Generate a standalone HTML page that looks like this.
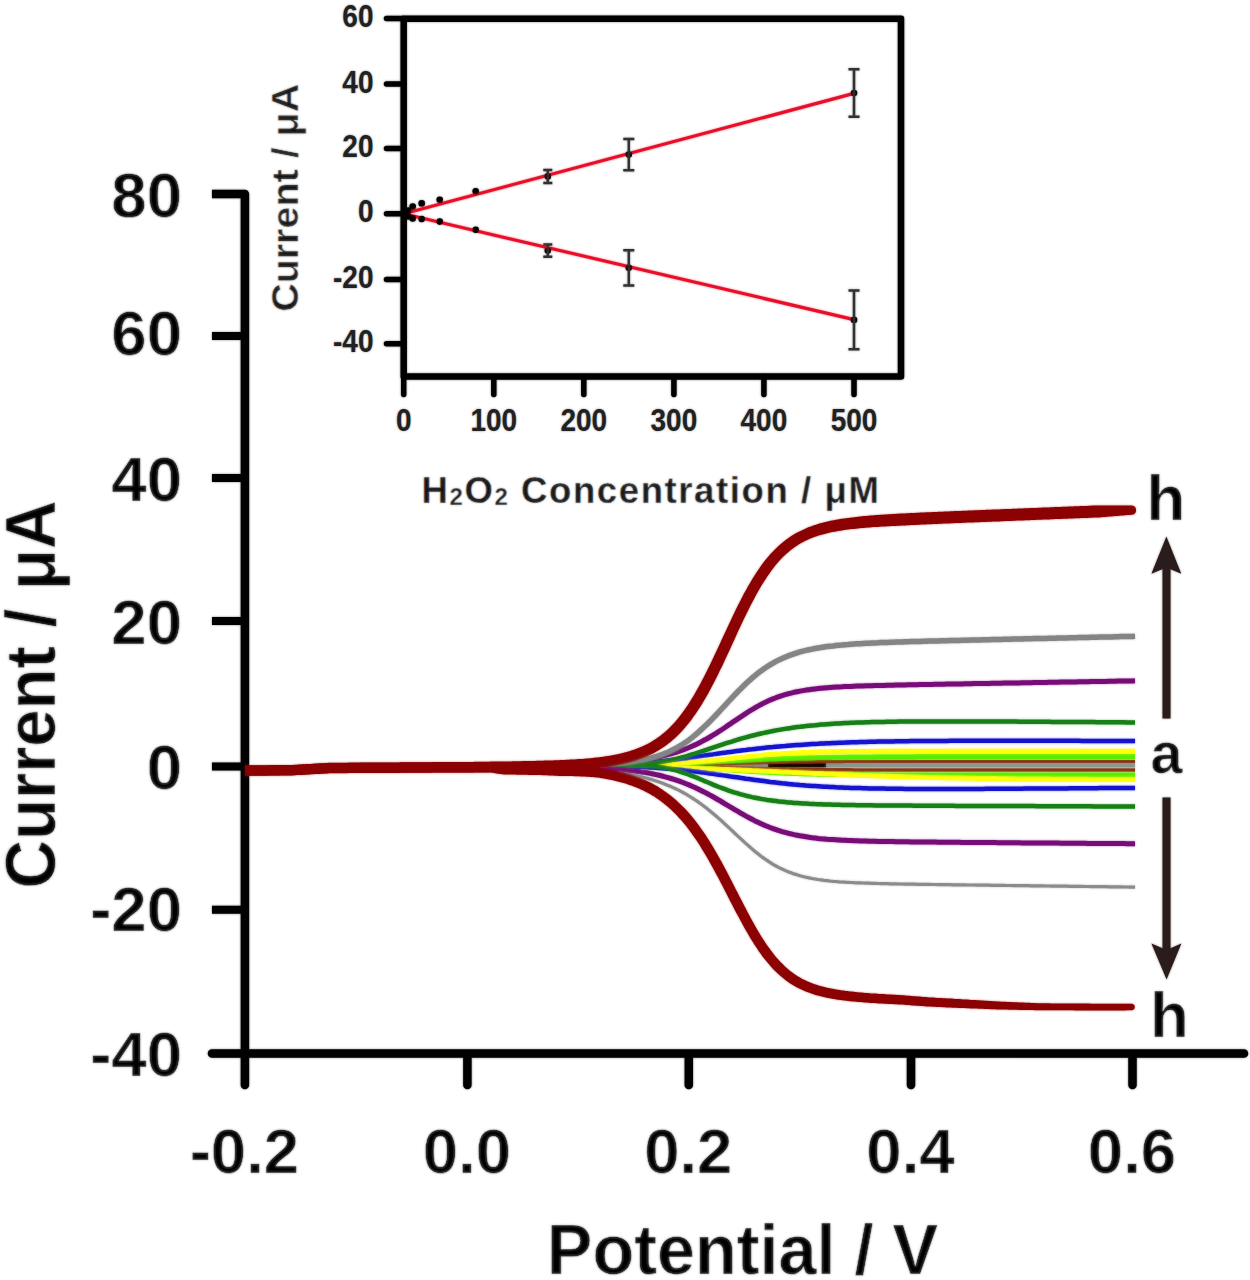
<!DOCTYPE html>
<html><head><meta charset="utf-8"><style>
html,body{margin:0;padding:0;background:#fff;}
body{width:1250px;height:1280px;overflow:hidden;}
svg{display:block;}
text{font-family:"Liberation Sans",sans-serif;font-weight:bold;fill:#000;}
.t62{font-size:63.5px;stroke:#fff;stroke-width:0.6px;}
.t68{font-size:69.5px;stroke:#fff;stroke-width:0.6px;}
.th{font-size:63.5px;stroke:#fff;stroke-width:0.6px;}
.ta{font-size:57.5px;stroke:#fff;stroke-width:0.6px;}
.t28{font-size:28px;fill:#222;}
.t38{font-size:36.5px;fill:#111;stroke:#fff;stroke-width:0.4px;}
.t37{font-size:36.7px;fill:#111;stroke:#fff;stroke-width:0.5px;}
.sub{font-size:24px;}
</style></head><body>
<svg width="1250" height="1280" viewBox="0 0 1250 1280">
<defs><filter id="bl" x="0" y="0" width="1250" height="1280" filterUnits="userSpaceOnUse"><feGaussianBlur stdDeviation="1"/></filter></defs>
<rect width="1250" height="1280" fill="#fff"/>
<g id="content">
<rect x="403.7" y="18.7" width="497.3" height="357.7" stroke="#000" stroke-width="6.5" fill="none" stroke-linejoin="round"/>
<path d="M386.5,18.6 L403.7,18.6" stroke="#000" stroke-width="5.5" fill="none" stroke-linecap="round"/>
<text transform="translate(373.5,27.2) scale(1,1.13)" text-anchor="end" class="t28">60</text>
<path d="M386.5,84.0 L403.7,84.0" stroke="#000" stroke-width="5.5" fill="none" stroke-linecap="round"/>
<text transform="translate(373.5,92.6) scale(1,1.13)" text-anchor="end" class="t28">40</text>
<path d="M386.5,148.5 L403.7,148.5" stroke="#000" stroke-width="5.5" fill="none" stroke-linecap="round"/>
<text transform="translate(373.5,157.1) scale(1,1.13)" text-anchor="end" class="t28">20</text>
<path d="M386.5,213.8 L403.7,213.8" stroke="#000" stroke-width="5.5" fill="none" stroke-linecap="round"/>
<text transform="translate(373.5,222.4) scale(1,1.13)" text-anchor="end" class="t28">0</text>
<path d="M386.5,279.4 L403.7,279.4" stroke="#000" stroke-width="5.5" fill="none" stroke-linecap="round"/>
<text transform="translate(373.5,288.0) scale(1,1.13)" text-anchor="end" class="t28">-20</text>
<path d="M386.5,343.8 L403.7,343.8" stroke="#000" stroke-width="5.5" fill="none" stroke-linecap="round"/>
<text transform="translate(373.5,352.4) scale(1,1.13)" text-anchor="end" class="t28">-40</text>
<path d="M403.7,376.4 L403.7,394.5" stroke="#000" stroke-width="5.5" fill="none" stroke-linecap="round"/>
<text transform="translate(403.7,431.3) scale(1,1.13)" text-anchor="middle" class="t28">0</text>
<path d="M493.8,376.4 L493.8,394.5" stroke="#000" stroke-width="5.5" fill="none" stroke-linecap="round"/>
<text transform="translate(493.8,431.3) scale(1,1.13)" text-anchor="middle" class="t28">100</text>
<path d="M583.8,376.4 L583.8,394.5" stroke="#000" stroke-width="5.5" fill="none" stroke-linecap="round"/>
<text transform="translate(583.8,431.3) scale(1,1.13)" text-anchor="middle" class="t28">200</text>
<path d="M673.9,376.4 L673.9,394.5" stroke="#000" stroke-width="5.5" fill="none" stroke-linecap="round"/>
<text transform="translate(673.9,431.3) scale(1,1.13)" text-anchor="middle" class="t28">300</text>
<path d="M763.9,376.4 L763.9,394.5" stroke="#000" stroke-width="5.5" fill="none" stroke-linecap="round"/>
<text transform="translate(763.9,431.3) scale(1,1.13)" text-anchor="middle" class="t28">400</text>
<path d="M854.0,376.4 L854.0,394.5" stroke="#000" stroke-width="5.5" fill="none" stroke-linecap="round"/>
<text transform="translate(854.0,431.3) scale(1,1.13)" text-anchor="middle" class="t28">500</text>
<text x="421.5" y="502.5" class="t38" style="letter-spacing:1.6px">H<tspan class="sub" dy="2.5">2</tspan><tspan dy="-2.5">O</tspan><tspan class="sub" dy="2.5">2</tspan><tspan dy="-2.5"> Concentration / μM</tspan></text>
<text transform="translate(298,197.8) rotate(-90) scale(1.076,1)" text-anchor="middle" class="t37">Current / μA</text>
<path d="M403.7,213.8 L854.0,93.4" stroke="#e8102a" stroke-width="3.2" fill="none"/>
<path d="M403.7,213.8 L854.0,319.6" stroke="#e8102a" stroke-width="3.2" fill="none"/>
<circle cx="403.7" cy="213.8" r="3.3" fill="#000"/>
<circle cx="408.2" cy="210.5" r="3.3" fill="#000"/>
<circle cx="412.7" cy="206.6" r="3.3" fill="#000"/>
<circle cx="421.7" cy="203.4" r="3.3" fill="#000"/>
<circle cx="439.7" cy="199.8" r="3.3" fill="#000"/>
<circle cx="475.7" cy="191.3" r="3.3" fill="#000"/>
<circle cx="547.8" cy="176.4" r="3.3" fill="#000"/>
<circle cx="628.8" cy="154.6" r="3.3" fill="#000"/>
<circle cx="854.0" cy="93.0" r="3.3" fill="#000"/>
<path d="M547.8,169.9 L547.8,182.9 M543.3,169.9 L552.3,169.9 M543.3,182.9 L552.3,182.9" stroke="#333" stroke-width="2.5" fill="none"/>
<path d="M628.8,138.9 L628.8,170.2 M623.3,138.9 L634.3,138.9 M623.3,170.2 L634.3,170.2" stroke="#333" stroke-width="2.5" fill="none"/>
<path d="M854.0,69.3 L854.0,116.8 M848.5,69.3 L859.5,69.3 M848.5,116.8 L859.5,116.8" stroke="#333" stroke-width="2.5" fill="none"/>
<circle cx="403.7" cy="213.8" r="3.3" fill="#000"/>
<circle cx="408.2" cy="216.4" r="3.3" fill="#000"/>
<circle cx="412.7" cy="218.4" r="3.3" fill="#000"/>
<circle cx="421.7" cy="219.0" r="3.3" fill="#000"/>
<circle cx="439.7" cy="221.6" r="3.3" fill="#000"/>
<circle cx="475.7" cy="229.7" r="3.3" fill="#000"/>
<circle cx="547.8" cy="250.6" r="3.3" fill="#000"/>
<circle cx="628.8" cy="267.8" r="3.3" fill="#000"/>
<circle cx="854.0" cy="319.9" r="3.3" fill="#000"/>
<path d="M547.8,244.4 L547.8,256.8 M543.3,244.4 L552.3,244.4 M543.3,256.8 L552.3,256.8" stroke="#333" stroke-width="2.5" fill="none"/>
<path d="M628.8,250.3 L628.8,285.4 M623.3,250.3 L634.3,250.3 M623.3,285.4 L634.3,285.4" stroke="#333" stroke-width="2.5" fill="none"/>
<path d="M854.0,290.6 L854.0,349.2 M848.5,290.6 L859.5,290.6 M848.5,349.2 L859.5,349.2" stroke="#333" stroke-width="2.5" fill="none"/>
<path d="M212,194 L244.9,194 L244.9,1058" stroke="#000" stroke-width="8.5" fill="none" stroke-linejoin="round"/>
<path d="M212,1053.5 L1244,1053.5" stroke="#000" stroke-width="8.5" fill="none" stroke-linecap="round"/>
<path d="M212,336.0 L245,336.0" stroke="#000" stroke-width="8" fill="none"/>
<path d="M212,478.1 L245,478.1" stroke="#000" stroke-width="8" fill="none"/>
<path d="M212,621.0 L245,621.0" stroke="#000" stroke-width="8" fill="none"/>
<path d="M212,766.6 L245,766.6" stroke="#000" stroke-width="8" fill="none"/>
<path d="M212,909.8 L245,909.8" stroke="#000" stroke-width="8" fill="none"/>
<path d="M244.9,1057 L244.9,1085" stroke="#000" stroke-width="8.5" fill="none" stroke-linecap="round"/>
<path d="M467.4,1057 L467.4,1085" stroke="#000" stroke-width="8.5" fill="none" stroke-linecap="round"/>
<path d="M688.8,1057 L688.8,1085" stroke="#000" stroke-width="8.5" fill="none" stroke-linecap="round"/>
<path d="M911.0,1057 L911.0,1085" stroke="#000" stroke-width="8.5" fill="none" stroke-linecap="round"/>
<path d="M1132.5,1057 L1132.5,1085" stroke="#000" stroke-width="8.5" fill="none" stroke-linecap="round"/>
<path d="M640,765.5 L1135,765.5" stroke="#8a9a90" stroke-width="4" fill="none"/>
<path d="M768,765 L826,765" stroke="#000" stroke-width="4.5" fill="none"/>
<path d="M560.0,766.3 L563.0,766.3 L566.0,766.2 L569.0,766.2 L572.0,766.2 L575.0,766.1 L578.0,766.1 L581.0,766.1 L584.0,766.0 L587.0,766.0 L590.0,766.0 L593.0,765.9 L596.0,765.9 L599.0,765.9 L602.0,765.8 L605.0,765.8 L608.0,765.7 L611.0,765.7 L614.0,765.7 L617.0,765.6 L620.0,765.6 L623.0,765.5 L626.0,765.5 L629.0,765.4 L632.0,765.4 L635.0,765.3 L638.0,765.3 L641.0,765.2 L644.0,765.2 L647.0,765.2 L650.0,765.1 L653.0,765.1 L656.0,765.1 L659.0,765.0 L662.0,765.0 L665.0,765.0 L668.0,764.9 L671.0,764.9 L674.0,764.8 L677.0,764.8 L680.0,764.7 L683.0,764.7 L686.0,764.6 L689.0,764.6 L692.0,764.5 L695.0,764.4 L698.0,764.4 L701.0,764.3 L704.0,764.2 L707.0,764.1 L710.0,764.1 L713.0,764.0 L716.0,763.9 L719.0,763.8 L722.0,763.7 L725.0,763.6 L728.0,763.6 L731.0,763.5 L734.0,763.4 L737.0,763.3 L740.0,763.2 L743.0,763.1 L746.0,763.1 L749.0,763.0 L752.0,762.9 L755.0,762.8 L758.0,762.7 L761.0,762.7 L764.0,762.6 L767.0,762.5 L770.0,762.5 L773.0,762.4 L776.0,762.3 L779.0,762.3 L782.0,762.2 L785.0,762.2 L788.0,762.1 L791.0,762.1 L794.0,762.1 L797.0,762.0 L800.0,762.0 L803.0,761.9 L806.0,761.9 L809.0,761.9 L812.0,761.9 L815.0,761.8 L818.0,761.8 L821.0,761.8 L824.0,761.8 L827.0,761.7 L830.0,761.7 L833.0,761.7 L836.0,761.7 L839.0,761.7 L842.0,761.7 L845.0,761.6 L848.0,761.6 L851.0,761.6 L854.0,761.6 L857.0,761.6 L860.0,761.6 L863.0,761.6 L866.0,761.6 L869.0,761.6 L872.0,761.6 L875.0,761.6 L878.0,761.6 L881.0,761.6 L884.0,761.5 L887.0,761.5 L890.0,761.5 L893.0,761.5 L896.0,761.5 L899.0,761.5 L902.0,761.5 L905.0,761.5 L908.0,761.5 L911.0,761.5 L914.0,761.5 L917.0,761.5 L920.0,761.5 L923.0,761.5 L926.0,761.5 L929.0,761.5 L932.0,761.5 L935.0,761.5 L938.0,761.5 L941.0,761.5 L944.0,761.5 L947.0,761.5 L950.0,761.5 L953.0,761.5 L956.0,761.5 L959.0,761.5 L962.0,761.5 L965.0,761.5 L968.0,761.5 L971.0,761.5 L974.0,761.5 L977.0,761.5 L980.0,761.5 L983.0,761.5 L986.0,761.5 L989.0,761.5 L992.0,761.5 L995.0,761.5 L998.0,761.5 L1001.0,761.5 L1004.0,761.5 L1007.0,761.5 L1010.0,761.5 L1013.0,761.5 L1016.0,761.5 L1019.0,761.5 L1022.0,761.5 L1025.0,761.5 L1028.0,761.5 L1031.0,761.5 L1034.0,761.5 L1037.0,761.5 L1040.0,761.5 L1043.0,761.5 L1046.0,761.5 L1049.0,761.5 L1052.0,761.5 L1055.0,761.5 L1058.0,761.5 L1061.0,761.5 L1064.0,761.5 L1067.0,761.5 L1070.0,761.5 L1073.0,761.5 L1076.0,761.5 L1079.0,761.5 L1082.0,761.5 L1085.0,761.5 L1088.0,761.5 L1091.0,761.5 L1094.0,761.5 L1097.0,761.5 L1100.0,761.5 L1103.0,761.5 L1106.0,761.5 L1109.0,761.5 L1112.0,761.5 L1115.0,761.5 L1118.0,761.5 L1121.0,761.5 L1124.0,761.5 L1127.0,761.5 L1130.0,761.5 L1133.0,761.5 L1135.0,761.5" stroke="#8b3010" stroke-width="3.5" fill="none" stroke-linejoin="round"/>
<path d="M560.0,766.4 L563.0,766.3 L566.0,766.3 L569.0,766.3 L572.0,766.3 L575.0,766.2 L578.0,766.2 L581.0,766.2 L584.0,766.2 L587.0,766.1 L590.0,766.1 L593.0,766.1 L596.0,766.1 L599.0,766.0 L602.0,766.0 L605.0,766.0 L608.0,766.0 L611.0,766.0 L614.0,765.9 L617.0,765.9 L620.0,765.9 L623.0,765.9 L626.0,765.9 L629.0,765.9 L632.0,765.9 L635.0,765.8 L638.0,765.8 L641.0,765.8 L644.0,765.8 L647.0,765.8 L650.0,765.9 L653.0,765.9 L656.0,765.9 L659.0,766.0 L662.0,766.0 L665.0,766.0 L668.0,766.1 L671.0,766.1 L674.0,766.2 L677.0,766.2 L680.0,766.3 L683.0,766.3 L686.0,766.4 L689.0,766.5 L692.0,766.5 L695.0,766.6 L698.0,766.7 L701.0,766.7 L704.0,766.8 L707.0,766.9 L710.0,767.0 L713.0,767.1 L716.0,767.2 L719.0,767.2 L722.0,767.3 L725.0,767.4 L728.0,767.5 L731.0,767.6 L734.0,767.7 L737.0,767.8 L740.0,767.9 L743.0,768.0 L746.0,768.1 L749.0,768.2 L752.0,768.3 L755.0,768.4 L758.0,768.5 L761.0,768.5 L764.0,768.6 L767.0,768.7 L770.0,768.8 L773.0,768.9 L776.0,768.9 L779.0,769.0 L782.0,769.1 L785.0,769.1 L788.0,769.2 L791.0,769.2 L794.0,769.3 L797.0,769.3 L800.0,769.4 L803.0,769.4 L806.0,769.5 L809.0,769.5 L812.0,769.6 L815.0,769.6 L818.0,769.6 L821.0,769.6 L824.0,769.7 L827.0,769.7 L830.0,769.7 L833.0,769.7 L836.0,769.8 L839.0,769.8 L842.0,769.8 L845.0,769.8 L848.0,769.8 L851.0,769.8 L854.0,769.9 L857.0,769.9 L860.0,769.9 L863.0,769.9 L866.0,769.9 L869.0,769.9 L872.0,769.9 L875.0,769.9 L878.0,769.9 L881.0,769.9 L884.0,769.9 L887.0,769.9 L890.0,769.9 L893.0,770.0 L896.0,770.0 L899.0,770.0 L902.0,770.0 L905.0,770.0 L908.0,770.0 L911.0,770.0 L914.0,770.0 L917.0,770.0 L920.0,770.0 L923.0,770.0 L926.0,770.0 L929.0,770.0 L932.0,770.0 L935.0,770.0 L938.0,770.0 L941.0,770.0 L944.0,770.0 L947.0,770.0 L950.0,770.0 L953.0,770.0 L956.0,770.0 L959.0,770.0 L962.0,770.0 L965.0,770.0 L968.0,770.0 L971.0,770.0 L974.0,770.0 L977.0,770.0 L980.0,770.0 L983.0,770.0 L986.0,770.0 L989.0,770.0 L992.0,770.0 L995.0,770.0 L998.0,770.0 L1001.0,770.0 L1004.0,770.0 L1007.0,770.0 L1010.0,770.0 L1013.0,770.0 L1016.0,770.0 L1019.0,770.0 L1022.0,770.0 L1025.0,770.0 L1028.0,770.0 L1031.0,770.0 L1034.0,770.0 L1037.0,770.0 L1040.0,770.0 L1043.0,770.0 L1046.0,770.0 L1049.0,770.0 L1052.0,770.0 L1055.0,770.0 L1058.0,770.0 L1061.0,770.0 L1064.0,770.0 L1067.0,770.0 L1070.0,770.0 L1073.0,770.0 L1076.0,770.0 L1079.0,770.0 L1082.0,770.0 L1085.0,770.0 L1088.0,770.0 L1091.0,770.0 L1094.0,770.0 L1097.0,770.0 L1100.0,770.0 L1103.0,770.0 L1106.0,770.0 L1109.0,770.0 L1112.0,770.0 L1115.0,770.0 L1118.0,770.0 L1121.0,770.0 L1124.0,770.0 L1127.0,770.0 L1130.0,770.0 L1133.0,770.0 L1135.0,770.0" stroke="#8b3010" stroke-width="3.5" fill="none" stroke-linejoin="round"/>
<path d="M560.0,766.1 L563.0,766.1 L566.0,766.0 L569.0,766.0 L572.0,765.9 L575.0,765.9 L578.0,765.8 L581.0,765.8 L584.0,765.7 L587.0,765.7 L590.0,765.6 L593.0,765.6 L596.0,765.5 L599.0,765.5 L602.0,765.4 L605.0,765.3 L608.0,765.3 L611.0,765.2 L614.0,765.1 L617.0,765.1 L620.0,765.0 L623.0,764.9 L626.0,764.8 L629.0,764.7 L632.0,764.7 L635.0,764.6 L638.0,764.5 L641.0,764.4 L644.0,764.3 L647.0,764.2 L650.0,764.1 L653.0,764.1 L656.0,764.0 L659.0,763.9 L662.0,763.8 L665.0,763.7 L668.0,763.6 L671.0,763.5 L674.0,763.4 L677.0,763.3 L680.0,763.2 L683.0,763.1 L686.0,763.0 L689.0,762.8 L692.0,762.7 L695.0,762.6 L698.0,762.5 L701.0,762.3 L704.0,762.2 L707.0,762.0 L710.0,761.9 L713.0,761.8 L716.0,761.6 L719.0,761.5 L722.0,761.3 L725.0,761.2 L728.0,761.0 L731.0,760.9 L734.0,760.7 L737.0,760.6 L740.0,760.4 L743.0,760.3 L746.0,760.2 L749.0,760.0 L752.0,759.9 L755.0,759.7 L758.0,759.6 L761.0,759.5 L764.0,759.3 L767.0,759.2 L770.0,759.1 L773.0,759.0 L776.0,758.9 L779.0,758.7 L782.0,758.6 L785.0,758.5 L788.0,758.4 L791.0,758.3 L794.0,758.2 L797.0,758.1 L800.0,758.1 L803.0,758.0 L806.0,757.9 L809.0,757.8 L812.0,757.7 L815.0,757.7 L818.0,757.6 L821.0,757.6 L824.0,757.5 L827.0,757.4 L830.0,757.4 L833.0,757.3 L836.0,757.3 L839.0,757.2 L842.0,757.2 L845.0,757.2 L848.0,757.1 L851.0,757.1 L854.0,757.0 L857.0,757.0 L860.0,757.0 L863.0,757.0 L866.0,756.9 L869.0,756.9 L872.0,756.9 L875.0,756.8 L878.0,756.8 L881.0,756.8 L884.0,756.8 L887.0,756.8 L890.0,756.8 L893.0,756.7 L896.0,756.7 L899.0,756.7 L902.0,756.7 L905.0,756.7 L908.0,756.7 L911.0,756.7 L914.0,756.7 L917.0,756.6 L920.0,756.6 L923.0,756.6 L926.0,756.6 L929.0,756.6 L932.0,756.6 L935.0,756.6 L938.0,756.6 L941.0,756.6 L944.0,756.6 L947.0,756.6 L950.0,756.6 L953.0,756.6 L956.0,756.6 L959.0,756.6 L962.0,756.6 L965.0,756.5 L968.0,756.5 L971.0,756.5 L974.0,756.5 L977.0,756.5 L980.0,756.5 L983.0,756.5 L986.0,756.5 L989.0,756.5 L992.0,756.5 L995.0,756.5 L998.0,756.5 L1001.0,756.5 L1004.0,756.5 L1007.0,756.5 L1010.0,756.5 L1013.0,756.5 L1016.0,756.5 L1019.0,756.5 L1022.0,756.5 L1025.0,756.5 L1028.0,756.5 L1031.0,756.5 L1034.0,756.5 L1037.0,756.5 L1040.0,756.5 L1043.0,756.5 L1046.0,756.5 L1049.0,756.5 L1052.0,756.5 L1055.0,756.5 L1058.0,756.5 L1061.0,756.5 L1064.0,756.5 L1067.0,756.5 L1070.0,756.5 L1073.0,756.5 L1076.0,756.5 L1079.0,756.5 L1082.0,756.5 L1085.0,756.5 L1088.0,756.5 L1091.0,756.5 L1094.0,756.5 L1097.0,756.5 L1100.0,756.5 L1103.0,756.5 L1106.0,756.5 L1109.0,756.5 L1112.0,756.5 L1115.0,756.5 L1118.0,756.5 L1121.0,756.5 L1124.0,756.5 L1127.0,756.5 L1130.0,756.5 L1133.0,756.5 L1135.0,756.5" stroke="#55f000" stroke-width="5" fill="none" stroke-linejoin="round"/>
<path d="M560.0,766.4 L563.0,766.4 L566.0,766.3 L569.0,766.3 L572.0,766.3 L575.0,766.3 L578.0,766.3 L581.0,766.2 L584.0,766.2 L587.0,766.2 L590.0,766.2 L593.0,766.2 L596.0,766.2 L599.0,766.1 L602.0,766.1 L605.0,766.1 L608.0,766.1 L611.0,766.1 L614.0,766.1 L617.0,766.1 L620.0,766.1 L623.0,766.1 L626.0,766.1 L629.0,766.1 L632.0,766.1 L635.0,766.1 L638.0,766.1 L641.0,766.1 L644.0,766.2 L647.0,766.2 L650.0,766.3 L653.0,766.3 L656.0,766.4 L659.0,766.5 L662.0,766.5 L665.0,766.6 L668.0,766.7 L671.0,766.8 L674.0,766.9 L677.0,767.0 L680.0,767.1 L683.0,767.3 L686.0,767.4 L689.0,767.5 L692.0,767.7 L695.0,767.8 L698.0,767.9 L701.0,768.1 L704.0,768.3 L707.0,768.4 L710.0,768.6 L713.0,768.8 L716.0,769.0 L719.0,769.2 L722.0,769.4 L725.0,769.6 L728.0,769.8 L731.0,770.0 L734.0,770.2 L737.0,770.4 L740.0,770.6 L743.0,770.8 L746.0,771.0 L749.0,771.2 L752.0,771.4 L755.0,771.6 L758.0,771.8 L761.0,771.9 L764.0,772.1 L767.0,772.3 L770.0,772.4 L773.0,772.6 L776.0,772.8 L779.0,772.9 L782.0,773.0 L785.0,773.2 L788.0,773.3 L791.0,773.4 L794.0,773.5 L797.0,773.6 L800.0,773.7 L803.0,773.8 L806.0,773.9 L809.0,774.0 L812.0,774.1 L815.0,774.1 L818.0,774.2 L821.0,774.3 L824.0,774.3 L827.0,774.4 L830.0,774.4 L833.0,774.5 L836.0,774.5 L839.0,774.5 L842.0,774.6 L845.0,774.6 L848.0,774.6 L851.0,774.7 L854.0,774.7 L857.0,774.7 L860.0,774.7 L863.0,774.8 L866.0,774.8 L869.0,774.8 L872.0,774.8 L875.0,774.8 L878.0,774.8 L881.0,774.9 L884.0,774.9 L887.0,774.9 L890.0,774.9 L893.0,774.9 L896.0,774.9 L899.0,774.9 L902.0,774.9 L905.0,774.9 L908.0,774.9 L911.0,774.9 L914.0,774.9 L917.0,774.9 L920.0,775.0 L923.0,775.0 L926.0,775.0 L929.0,775.0 L932.0,775.0 L935.0,775.0 L938.0,775.0 L941.0,775.0 L944.0,775.0 L947.0,775.0 L950.0,775.0 L953.0,775.0 L956.0,775.0 L959.0,775.0 L962.0,775.0 L965.0,775.0 L968.0,775.0 L971.0,775.0 L974.0,775.0 L977.0,775.0 L980.0,775.0 L983.0,775.0 L986.0,775.0 L989.0,775.0 L992.0,775.0 L995.0,775.0 L998.0,775.0 L1001.0,775.0 L1004.0,775.0 L1007.0,775.0 L1010.0,775.0 L1013.0,775.0 L1016.0,775.0 L1019.0,775.0 L1022.0,775.0 L1025.0,775.0 L1028.0,775.0 L1031.0,775.0 L1034.0,775.0 L1037.0,775.0 L1040.0,775.0 L1043.0,775.0 L1046.0,775.0 L1049.0,775.0 L1052.0,775.0 L1055.0,775.0 L1058.0,775.0 L1061.0,775.0 L1064.0,775.0 L1067.0,775.0 L1070.0,775.0 L1073.0,775.0 L1076.0,775.0 L1079.0,775.0 L1082.0,775.0 L1085.0,775.0 L1088.0,775.0 L1091.0,775.0 L1094.0,775.0 L1097.0,775.0 L1100.0,775.0 L1103.0,775.0 L1106.0,775.0 L1109.0,775.0 L1112.0,775.0 L1115.0,775.0 L1118.0,775.0 L1121.0,775.0 L1124.0,775.0 L1127.0,775.0 L1130.0,775.0 L1133.0,775.0 L1135.0,775.0" stroke="#55f000" stroke-width="5" fill="none" stroke-linejoin="round"/>
<path d="M560.0,766.3 L563.0,766.2 L566.0,766.2 L569.0,766.1 L572.0,766.1 L575.0,766.1 L578.0,766.0 L581.0,766.0 L584.0,765.9 L587.0,765.9 L590.0,765.9 L593.0,765.8 L596.0,765.8 L599.0,765.7 L602.0,765.7 L605.0,765.6 L608.0,765.6 L611.0,765.5 L614.0,765.4 L617.0,765.4 L620.0,765.3 L623.0,765.2 L626.0,765.2 L629.0,765.1 L632.0,765.0 L635.0,764.9 L638.0,764.8 L641.0,764.7 L644.0,764.6 L647.0,764.5 L650.0,764.5 L653.0,764.4 L656.0,764.3 L659.0,764.2 L662.0,764.0 L665.0,763.9 L668.0,763.8 L671.0,763.6 L674.0,763.5 L677.0,763.3 L680.0,763.1 L683.0,762.9 L686.0,762.7 L689.0,762.5 L692.0,762.3 L695.0,762.1 L698.0,761.8 L701.0,761.6 L704.0,761.3 L707.0,761.0 L710.0,760.7 L713.0,760.4 L716.0,760.1 L719.0,759.8 L722.0,759.5 L725.0,759.2 L728.0,758.8 L731.0,758.5 L734.0,758.2 L737.0,757.8 L740.0,757.5 L743.0,757.2 L746.0,756.9 L749.0,756.5 L752.0,756.2 L755.0,755.9 L758.0,755.7 L761.0,755.4 L764.0,755.1 L767.0,754.8 L770.0,754.6 L773.0,754.4 L776.0,754.1 L779.0,753.9 L782.0,753.7 L785.0,753.5 L788.0,753.4 L791.0,753.2 L794.0,753.0 L797.0,752.9 L800.0,752.8 L803.0,752.6 L806.0,752.5 L809.0,752.4 L812.0,752.3 L815.0,752.2 L818.0,752.1 L821.0,752.1 L824.0,752.0 L827.0,751.9 L830.0,751.9 L833.0,751.8 L836.0,751.7 L839.0,751.7 L842.0,751.7 L845.0,751.6 L848.0,751.6 L851.0,751.5 L854.0,751.5 L857.0,751.5 L860.0,751.5 L863.0,751.4 L866.0,751.4 L869.0,751.4 L872.0,751.4 L875.0,751.4 L878.0,751.3 L881.0,751.3 L884.0,751.3 L887.0,751.3 L890.0,751.3 L893.0,751.3 L896.0,751.3 L899.0,751.3 L902.0,751.3 L905.0,751.3 L908.0,751.2 L911.0,751.2 L914.0,751.2 L917.0,751.2 L920.0,751.2 L923.0,751.2 L926.0,751.2 L929.0,751.2 L932.0,751.2 L935.0,751.2 L938.0,751.2 L941.0,751.2 L944.0,751.2 L947.0,751.2 L950.0,751.2 L953.0,751.2 L956.0,751.2 L959.0,751.2 L962.0,751.2 L965.0,751.2 L968.0,751.2 L971.0,751.2 L974.0,751.2 L977.0,751.2 L980.0,751.2 L983.0,751.2 L986.0,751.2 L989.0,751.2 L992.0,751.2 L995.0,751.2 L998.0,751.2 L1001.0,751.2 L1004.0,751.2 L1007.0,751.2 L1010.0,751.2 L1013.0,751.2 L1016.0,751.2 L1019.0,751.2 L1022.0,751.2 L1025.0,751.2 L1028.0,751.2 L1031.0,751.2 L1034.0,751.2 L1037.0,751.2 L1040.0,751.2 L1043.0,751.2 L1046.0,751.2 L1049.0,751.2 L1052.0,751.2 L1055.0,751.2 L1058.0,751.2 L1061.0,751.2 L1064.0,751.2 L1067.0,751.2 L1070.0,751.2 L1073.0,751.2 L1076.0,751.2 L1079.0,751.2 L1082.0,751.2 L1085.0,751.2 L1088.0,751.2 L1091.0,751.2 L1094.0,751.2 L1097.0,751.2 L1100.0,751.2 L1103.0,751.2 L1106.0,751.2 L1109.0,751.2 L1112.0,751.2 L1115.0,751.2 L1118.0,751.2 L1121.0,751.2 L1124.0,751.2 L1127.0,751.2 L1130.0,751.2 L1133.0,751.2 L1135.0,751.2" stroke="#ffff10" stroke-width="5" fill="none" stroke-linejoin="round"/>
<path d="M560.0,767.0 L563.0,767.0 L566.0,767.0 L569.0,767.0 L572.0,767.0 L575.0,767.0 L578.0,767.0 L581.0,767.0 L584.0,767.0 L587.0,767.0 L590.0,767.0 L593.0,767.0 L596.0,767.0 L599.0,767.0 L602.0,767.0 L605.0,767.0 L608.0,767.0 L611.0,767.0 L614.0,767.0 L617.0,767.1 L620.0,767.1 L623.0,767.1 L626.0,767.1 L629.0,767.1 L632.0,767.2 L635.0,767.2 L638.0,767.2 L641.0,767.2 L644.0,767.3 L647.0,767.3 L650.0,767.4 L653.0,767.4 L656.0,767.5 L659.0,767.6 L662.0,767.6 L665.0,767.7 L668.0,767.8 L671.0,767.8 L674.0,767.9 L677.0,768.0 L680.0,768.1 L683.0,768.2 L686.0,768.2 L689.0,768.3 L692.0,768.4 L695.0,768.5 L698.0,768.6 L701.0,768.7 L704.0,768.8 L707.0,768.9 L710.0,769.0 L713.0,769.1 L716.0,769.2 L719.0,769.3 L722.0,769.4 L725.0,769.5 L728.0,769.6 L731.0,769.7 L734.0,769.8 L737.0,770.0 L740.0,770.1 L743.0,770.2 L746.0,770.3 L749.0,770.4 L752.0,770.6 L755.0,770.7 L758.0,770.8 L761.0,770.9 L764.0,771.1 L767.0,771.2 L770.0,771.3 L773.0,771.5 L776.0,771.6 L779.0,771.7 L782.0,771.9 L785.0,772.0 L788.0,772.1 L791.0,772.3 L794.0,772.4 L797.0,772.5 L800.0,772.7 L803.0,772.8 L806.0,772.9 L809.0,773.1 L812.0,773.2 L815.0,773.4 L818.0,773.5 L821.0,773.6 L824.0,773.8 L827.0,773.9 L830.0,774.0 L833.0,774.1 L836.0,774.3 L839.0,774.4 L842.0,774.5 L845.0,774.7 L848.0,774.8 L851.0,774.9 L854.0,775.0 L857.0,775.1 L860.0,775.3 L863.0,775.4 L866.0,775.5 L869.0,775.6 L872.0,775.7 L875.0,775.8 L878.0,775.9 L881.0,776.0 L884.0,776.1 L887.0,776.2 L890.0,776.3 L893.0,776.4 L896.0,776.5 L899.0,776.6 L902.0,776.7 L905.0,776.8 L908.0,776.9 L911.0,777.0 L914.0,777.1 L917.0,777.1 L920.0,777.2 L923.0,777.3 L926.0,777.4 L929.0,777.4 L932.0,777.5 L935.0,777.6 L938.0,777.6 L941.0,777.7 L944.0,777.8 L947.0,777.8 L950.0,777.9 L953.0,778.0 L956.0,778.0 L959.0,778.1 L962.0,778.1 L965.0,778.2 L968.0,778.2 L971.0,778.3 L974.0,778.3 L977.0,778.4 L980.0,778.4 L983.0,778.5 L986.0,778.5 L989.0,778.5 L992.0,778.6 L995.0,778.6 L998.0,778.7 L1001.0,778.7 L1004.0,778.7 L1007.0,778.8 L1010.0,778.8 L1013.0,778.8 L1016.0,778.9 L1019.0,778.9 L1022.0,778.9 L1025.0,778.9 L1028.0,779.0 L1031.0,779.0 L1034.0,779.0 L1037.0,779.0 L1040.0,779.1 L1043.0,779.1 L1046.0,779.1 L1049.0,779.1 L1052.0,779.2 L1055.0,779.2 L1058.0,779.2 L1061.0,779.2 L1064.0,779.2 L1067.0,779.2 L1070.0,779.3 L1073.0,779.3 L1076.0,779.3 L1079.0,779.3 L1082.0,779.3 L1085.0,779.3 L1088.0,779.3 L1091.0,779.4 L1094.0,779.4 L1097.0,779.4 L1100.0,779.4 L1103.0,779.4 L1106.0,779.4 L1109.0,779.4 L1112.0,779.4 L1115.0,779.4 L1118.0,779.5 L1121.0,779.5 L1124.0,779.5 L1127.0,779.5 L1130.0,779.5 L1133.0,779.5 L1135.0,779.5" stroke="#ffff10" stroke-width="5" fill="none" stroke-linejoin="round"/>
<path d="M560.0,766.3 L563.0,766.2 L566.0,766.2 L569.0,766.1 L572.0,766.1 L575.0,766.0 L578.0,766.0 L581.0,765.9 L584.0,765.9 L587.0,765.8 L590.0,765.7 L593.0,765.7 L596.0,765.6 L599.0,765.5 L602.0,765.4 L605.0,765.3 L608.0,765.2 L611.0,765.0 L614.0,764.9 L617.0,764.7 L620.0,764.6 L623.0,764.4 L626.0,764.2 L629.0,764.0 L632.0,763.8 L635.0,763.6 L638.0,763.4 L641.0,763.1 L644.0,762.8 L647.0,762.6 L650.0,762.3 L653.0,762.0 L656.0,761.7 L659.0,761.4 L662.0,761.1 L665.0,760.8 L668.0,760.4 L671.0,760.1 L674.0,759.7 L677.0,759.3 L680.0,758.9 L683.0,758.6 L686.0,758.2 L689.0,757.7 L692.0,757.3 L695.0,756.9 L698.0,756.5 L701.0,756.1 L704.0,755.6 L707.0,755.2 L710.0,754.8 L713.0,754.4 L716.0,753.9 L719.0,753.5 L722.0,753.1 L725.0,752.7 L728.0,752.3 L731.0,751.9 L734.0,751.5 L737.0,751.1 L740.0,750.7 L743.0,750.3 L746.0,750.0 L749.0,749.6 L752.0,749.3 L755.0,748.9 L758.0,748.6 L761.0,748.3 L764.0,747.9 L767.0,747.6 L770.0,747.3 L773.0,747.1 L776.0,746.8 L779.0,746.5 L782.0,746.2 L785.0,746.0 L788.0,745.7 L791.0,745.5 L794.0,745.3 L797.0,745.1 L800.0,744.9 L803.0,744.7 L806.0,744.5 L809.0,744.3 L812.0,744.1 L815.0,743.9 L818.0,743.8 L821.0,743.6 L824.0,743.4 L827.0,743.3 L830.0,743.2 L833.0,743.0 L836.0,742.9 L839.0,742.8 L842.0,742.7 L845.0,742.6 L848.0,742.4 L851.0,742.3 L854.0,742.3 L857.0,742.2 L860.0,742.1 L863.0,742.0 L866.0,741.9 L869.0,741.8 L872.0,741.8 L875.0,741.7 L878.0,741.6 L881.0,741.6 L884.0,741.5 L887.0,741.5 L890.0,741.4 L893.0,741.4 L896.0,741.3 L899.0,741.3 L902.0,741.2 L905.0,741.2 L908.0,741.2 L911.0,741.1 L914.0,741.1 L917.0,741.1 L920.0,741.0 L923.0,741.0 L926.0,741.0 L929.0,741.0 L932.0,740.9 L935.0,740.9 L938.0,740.9 L941.0,740.9 L944.0,740.9 L947.0,740.9 L950.0,740.8 L953.0,740.8 L956.0,740.8 L959.0,740.8 L962.0,740.8 L965.0,740.8 L968.0,740.8 L971.0,740.8 L974.0,740.8 L977.0,740.8 L980.0,740.8 L983.0,740.7 L986.0,740.7 L989.0,740.7 L992.0,740.7 L995.0,740.7 L998.0,740.7 L1001.0,740.7 L1004.0,740.7 L1007.0,740.7 L1010.0,740.7 L1013.0,740.7 L1016.0,740.7 L1019.0,740.7 L1022.0,740.7 L1025.0,740.8 L1028.0,740.8 L1031.0,740.8 L1034.0,740.8 L1037.0,740.8 L1040.0,740.8 L1043.0,740.8 L1046.0,740.8 L1049.0,740.8 L1052.0,740.8 L1055.0,740.8 L1058.0,740.8 L1061.0,740.8 L1064.0,740.8 L1067.0,740.8 L1070.0,740.8 L1073.0,740.8 L1076.0,740.8 L1079.0,740.8 L1082.0,740.9 L1085.0,740.9 L1088.0,740.9 L1091.0,740.9 L1094.0,740.9 L1097.0,740.9 L1100.0,740.9 L1103.0,740.9 L1106.0,740.9 L1109.0,740.9 L1112.0,740.9 L1115.0,740.9 L1118.0,741.0 L1121.0,741.0 L1124.0,741.0 L1127.0,741.0 L1130.0,741.0 L1133.0,741.0 L1135.0,741.0" stroke="#1515d0" stroke-width="4.5" fill="none" stroke-linejoin="round"/>
<path d="M560.0,766.4 L563.0,766.4 L566.0,766.4 L569.0,766.4 L572.0,766.4 L575.0,766.3 L578.0,766.3 L581.0,766.3 L584.0,766.3 L587.0,766.3 L590.0,766.3 L593.0,766.3 L596.0,766.3 L599.0,766.3 L602.0,766.3 L605.0,766.4 L608.0,766.4 L611.0,766.4 L614.0,766.4 L617.0,766.5 L620.0,766.5 L623.0,766.6 L626.0,766.6 L629.0,766.7 L632.0,766.8 L635.0,766.8 L638.0,766.9 L641.0,767.0 L644.0,767.1 L647.0,767.3 L650.0,767.4 L653.0,767.6 L656.0,767.8 L659.0,768.0 L662.0,768.2 L665.0,768.4 L668.0,768.7 L671.0,768.9 L674.0,769.2 L677.0,769.5 L680.0,769.8 L683.0,770.1 L686.0,770.4 L689.0,770.7 L692.0,771.1 L695.0,771.4 L698.0,771.8 L701.0,772.2 L704.0,772.6 L707.0,773.0 L710.0,773.4 L713.0,773.8 L716.0,774.3 L719.0,774.7 L722.0,775.1 L725.0,775.6 L728.0,776.0 L731.0,776.5 L734.0,776.9 L737.0,777.3 L740.0,777.8 L743.0,778.2 L746.0,778.7 L749.0,779.1 L752.0,779.5 L755.0,779.9 L758.0,780.3 L761.0,780.7 L764.0,781.1 L767.0,781.5 L770.0,781.9 L773.0,782.2 L776.0,782.6 L779.0,782.9 L782.0,783.3 L785.0,783.6 L788.0,783.9 L791.0,784.2 L794.0,784.5 L797.0,784.7 L800.0,785.0 L803.0,785.2 L806.0,785.5 L809.0,785.7 L812.0,785.9 L815.0,786.1 L818.0,786.3 L821.0,786.5 L824.0,786.7 L827.0,786.8 L830.0,787.0 L833.0,787.1 L836.0,787.3 L839.0,787.4 L842.0,787.5 L845.0,787.7 L848.0,787.8 L851.0,787.9 L854.0,788.0 L857.0,788.1 L860.0,788.1 L863.0,788.2 L866.0,788.3 L869.0,788.4 L872.0,788.4 L875.0,788.5 L878.0,788.5 L881.0,788.6 L884.0,788.6 L887.0,788.7 L890.0,788.7 L893.0,788.7 L896.0,788.8 L899.0,788.8 L902.0,788.8 L905.0,788.9 L908.0,788.9 L911.0,788.9 L914.0,788.9 L917.0,788.9 L920.0,788.9 L923.0,788.9 L926.0,788.9 L929.0,789.0 L932.0,789.0 L935.0,789.0 L938.0,789.0 L941.0,789.0 L944.0,789.0 L947.0,789.0 L950.0,789.0 L953.0,789.0 L956.0,788.9 L959.0,788.9 L962.0,788.9 L965.0,788.9 L968.0,788.9 L971.0,788.9 L974.0,788.9 L977.0,788.9 L980.0,788.9 L983.0,788.9 L986.0,788.8 L989.0,788.8 L992.0,788.8 L995.0,788.8 L998.0,788.8 L1001.0,788.8 L1004.0,788.8 L1007.0,788.7 L1010.0,788.7 L1013.0,788.7 L1016.0,788.7 L1019.0,788.7 L1022.0,788.7 L1025.0,788.6 L1028.0,788.6 L1031.0,788.6 L1034.0,788.6 L1037.0,788.6 L1040.0,788.5 L1043.0,788.5 L1046.0,788.5 L1049.0,788.5 L1052.0,788.5 L1055.0,788.4 L1058.0,788.4 L1061.0,788.4 L1064.0,788.4 L1067.0,788.4 L1070.0,788.3 L1073.0,788.3 L1076.0,788.3 L1079.0,788.3 L1082.0,788.3 L1085.0,788.2 L1088.0,788.2 L1091.0,788.2 L1094.0,788.2 L1097.0,788.2 L1100.0,788.1 L1103.0,788.1 L1106.0,788.1 L1109.0,788.1 L1112.0,788.0 L1115.0,788.0 L1118.0,788.0 L1121.0,788.0 L1124.0,788.0 L1127.0,787.9 L1130.0,787.9 L1133.0,787.9 L1135.0,787.9" stroke="#1515d0" stroke-width="4.5" fill="none" stroke-linejoin="round"/>
<path d="M560.0,766.3 L563.0,766.3 L566.0,766.3 L569.0,766.2 L572.0,766.2 L575.0,766.2 L578.0,766.1 L581.0,766.1 L584.0,766.1 L587.0,766.1 L590.0,766.0 L593.0,766.0 L596.0,766.0 L599.0,765.9 L602.0,765.9 L605.0,765.8 L608.0,765.8 L611.0,765.7 L614.0,765.7 L617.0,765.6 L620.0,765.5 L623.0,765.4 L626.0,765.3 L629.0,765.2 L632.0,765.0 L635.0,764.8 L638.0,764.6 L641.0,764.4 L644.0,764.1 L647.0,763.8 L650.0,763.5 L653.0,763.2 L656.0,762.8 L659.0,762.3 L662.0,761.8 L665.0,761.3 L668.0,760.7 L671.0,760.1 L674.0,759.4 L677.0,758.7 L680.0,757.9 L683.0,757.1 L686.0,756.3 L689.0,755.4 L692.0,754.5 L695.0,753.6 L698.0,752.6 L701.0,751.7 L704.0,750.7 L707.0,749.7 L710.0,748.7 L713.0,747.7 L716.0,746.7 L719.0,745.7 L722.0,744.7 L725.0,743.7 L728.0,742.7 L731.0,741.8 L734.0,740.8 L737.0,739.9 L740.0,739.0 L743.0,738.2 L746.0,737.3 L749.0,736.5 L752.0,735.7 L755.0,735.0 L758.0,734.2 L761.0,733.5 L764.0,732.9 L767.0,732.2 L770.0,731.6 L773.0,731.0 L776.0,730.4 L779.0,729.9 L782.0,729.4 L785.0,728.9 L788.0,728.4 L791.0,728.0 L794.0,727.5 L797.0,727.1 L800.0,726.8 L803.0,726.4 L806.0,726.1 L809.0,725.7 L812.0,725.4 L815.0,725.2 L818.0,724.9 L821.0,724.6 L824.0,724.4 L827.0,724.2 L830.0,724.0 L833.0,723.8 L836.0,723.6 L839.0,723.4 L842.0,723.2 L845.0,723.1 L848.0,723.0 L851.0,722.8 L854.0,722.7 L857.0,722.6 L860.0,722.5 L863.0,722.4 L866.0,722.3 L869.0,722.2 L872.0,722.1 L875.0,722.0 L878.0,722.0 L881.0,721.9 L884.0,721.9 L887.0,721.8 L890.0,721.8 L893.0,721.7 L896.0,721.7 L899.0,721.6 L902.0,721.6 L905.0,721.6 L908.0,721.5 L911.0,721.5 L914.0,721.5 L917.0,721.5 L920.0,721.5 L923.0,721.5 L926.0,721.4 L929.0,721.4 L932.0,721.4 L935.0,721.4 L938.0,721.4 L941.0,721.4 L944.0,721.4 L947.0,721.4 L950.0,721.4 L953.0,721.4 L956.0,721.4 L959.0,721.4 L962.0,721.4 L965.0,721.4 L968.0,721.4 L971.0,721.4 L974.0,721.5 L977.0,721.5 L980.0,721.5 L983.0,721.5 L986.0,721.5 L989.0,721.5 L992.0,721.5 L995.0,721.5 L998.0,721.6 L1001.0,721.6 L1004.0,721.6 L1007.0,721.6 L1010.0,721.6 L1013.0,721.6 L1016.0,721.6 L1019.0,721.7 L1022.0,721.7 L1025.0,721.7 L1028.0,721.7 L1031.0,721.7 L1034.0,721.7 L1037.0,721.8 L1040.0,721.8 L1043.0,721.8 L1046.0,721.8 L1049.0,721.8 L1052.0,721.9 L1055.0,721.9 L1058.0,721.9 L1061.0,721.9 L1064.0,721.9 L1067.0,722.0 L1070.0,722.0 L1073.0,722.0 L1076.0,722.0 L1079.0,722.0 L1082.0,722.1 L1085.0,722.1 L1088.0,722.1 L1091.0,722.1 L1094.0,722.1 L1097.0,722.2 L1100.0,722.2 L1103.0,722.2 L1106.0,722.2 L1109.0,722.2 L1112.0,722.3 L1115.0,722.3 L1118.0,722.3 L1121.0,722.3 L1124.0,722.3 L1127.0,722.4 L1130.0,722.4 L1133.0,722.4 L1135.0,722.4" stroke="#188018" stroke-width="4.5" fill="none" stroke-linejoin="round"/>
<path d="M560.0,766.3 L563.0,766.3 L566.0,766.3 L569.0,766.2 L572.0,766.2 L575.0,766.2 L578.0,766.2 L581.0,766.1 L584.0,766.1 L587.0,766.1 L590.0,766.0 L593.0,766.0 L596.0,766.0 L599.0,765.9 L602.0,765.9 L605.0,765.9 L608.0,765.9 L611.0,765.8 L614.0,765.8 L617.0,765.8 L620.0,765.8 L623.0,765.7 L626.0,765.7 L629.0,765.7 L632.0,765.7 L635.0,765.7 L638.0,765.7 L641.0,765.8 L644.0,765.8 L647.0,765.9 L650.0,766.1 L653.0,766.3 L656.0,766.6 L659.0,766.9 L662.0,767.3 L665.0,767.8 L668.0,768.4 L671.0,769.0 L674.0,769.8 L677.0,770.6 L680.0,771.5 L683.0,772.5 L686.0,773.5 L689.0,774.6 L692.0,775.8 L695.0,777.0 L698.0,778.2 L701.0,779.5 L704.0,780.8 L707.0,782.0 L710.0,783.3 L713.0,784.6 L716.0,785.8 L719.0,787.0 L722.0,788.1 L725.0,789.2 L728.0,790.3 L731.0,791.3 L734.0,792.3 L737.0,793.2 L740.0,794.1 L743.0,794.9 L746.0,795.7 L749.0,796.4 L752.0,797.1 L755.0,797.7 L758.0,798.3 L761.0,798.9 L764.0,799.4 L767.0,799.9 L770.0,800.3 L773.0,800.7 L776.0,801.1 L779.0,801.5 L782.0,801.8 L785.0,802.1 L788.0,802.4 L791.0,802.6 L794.0,802.9 L797.0,803.1 L800.0,803.3 L803.0,803.5 L806.0,803.6 L809.0,803.8 L812.0,803.9 L815.0,804.1 L818.0,804.2 L821.0,804.3 L824.0,804.4 L827.0,804.5 L830.0,804.6 L833.0,804.7 L836.0,804.8 L839.0,804.8 L842.0,804.9 L845.0,804.9 L848.0,805.0 L851.0,805.1 L854.0,805.1 L857.0,805.2 L860.0,805.2 L863.0,805.2 L866.0,805.3 L869.0,805.3 L872.0,805.3 L875.0,805.4 L878.0,805.4 L881.0,805.4 L884.0,805.5 L887.0,805.5 L890.0,805.5 L893.0,805.5 L896.0,805.5 L899.0,805.6 L902.0,805.6 L905.0,805.6 L908.0,805.6 L911.0,805.6 L914.0,805.7 L917.0,805.7 L920.0,805.7 L923.0,805.7 L926.0,805.7 L929.0,805.7 L932.0,805.7 L935.0,805.8 L938.0,805.8 L941.0,805.8 L944.0,805.8 L947.0,805.8 L950.0,805.8 L953.0,805.8 L956.0,805.9 L959.0,805.9 L962.0,805.9 L965.0,805.9 L968.0,805.9 L971.0,805.9 L974.0,805.9 L977.0,805.9 L980.0,805.9 L983.0,806.0 L986.0,806.0 L989.0,806.0 L992.0,806.0 L995.0,806.0 L998.0,806.0 L1001.0,806.0 L1004.0,806.0 L1007.0,806.0 L1010.0,806.1 L1013.0,806.1 L1016.0,806.1 L1019.0,806.1 L1022.0,806.1 L1025.0,806.1 L1028.0,806.1 L1031.0,806.1 L1034.0,806.1 L1037.0,806.2 L1040.0,806.2 L1043.0,806.2 L1046.0,806.2 L1049.0,806.2 L1052.0,806.2 L1055.0,806.2 L1058.0,806.2 L1061.0,806.2 L1064.0,806.3 L1067.0,806.3 L1070.0,806.3 L1073.0,806.3 L1076.0,806.3 L1079.0,806.3 L1082.0,806.3 L1085.0,806.3 L1088.0,806.3 L1091.0,806.3 L1094.0,806.4 L1097.0,806.4 L1100.0,806.4 L1103.0,806.4 L1106.0,806.4 L1109.0,806.4 L1112.0,806.4 L1115.0,806.4 L1118.0,806.4 L1121.0,806.5 L1124.0,806.5 L1127.0,806.5 L1130.0,806.5 L1133.0,806.5 L1135.0,806.5" stroke="#188018" stroke-width="4.5" fill="none" stroke-linejoin="round"/>
<path d="M560.0,765.6 L563.0,765.5 L566.0,765.4 L569.0,765.4 L572.0,765.3 L575.0,765.1 L578.0,765.0 L581.0,764.9 L584.0,764.8 L587.0,764.7 L590.0,764.5 L593.0,764.4 L596.0,764.2 L599.0,764.0 L602.0,763.9 L605.0,763.7 L608.0,763.5 L611.0,763.2 L614.0,763.0 L617.0,762.8 L620.0,762.5 L623.0,762.2 L626.0,761.9 L629.0,761.6 L632.0,761.2 L635.0,760.8 L638.0,760.4 L641.0,760.0 L644.0,759.5 L647.0,759.0 L650.0,758.5 L653.0,758.0 L656.0,757.4 L659.0,756.8 L662.0,756.1 L665.0,755.4 L668.0,754.6 L671.0,753.8 L674.0,752.9 L677.0,752.0 L680.0,751.0 L683.0,749.9 L686.0,748.7 L689.0,747.5 L692.0,746.2 L695.0,744.9 L698.0,743.4 L701.0,741.9 L704.0,740.3 L707.0,738.7 L710.0,737.0 L713.0,735.2 L716.0,733.3 L719.0,731.4 L722.0,729.5 L725.0,727.5 L728.0,725.4 L731.0,723.4 L734.0,721.3 L737.0,719.3 L740.0,717.3 L743.0,715.3 L746.0,713.3 L749.0,711.4 L752.0,709.6 L755.0,707.8 L758.0,706.1 L761.0,704.5 L764.0,702.9 L767.0,701.5 L770.0,700.1 L773.0,698.9 L776.0,697.7 L779.0,696.6 L782.0,695.6 L785.0,694.7 L788.0,693.8 L791.0,693.1 L794.0,692.3 L797.0,691.7 L800.0,691.1 L803.0,690.6 L806.0,690.1 L809.0,689.7 L812.0,689.3 L815.0,688.9 L818.0,688.6 L821.0,688.3 L824.0,688.0 L827.0,687.7 L830.0,687.5 L833.0,687.3 L836.0,687.1 L839.0,686.9 L842.0,686.8 L845.0,686.6 L848.0,686.5 L851.0,686.4 L854.0,686.2 L857.0,686.1 L860.0,686.0 L863.0,685.9 L866.0,685.8 L869.0,685.7 L872.0,685.7 L875.0,685.6 L878.0,685.5 L881.0,685.4 L884.0,685.4 L887.0,685.3 L890.0,685.2 L893.0,685.2 L896.0,685.1 L899.0,685.0 L902.0,685.0 L905.0,684.9 L908.0,684.8 L911.0,684.8 L914.0,684.7 L917.0,684.7 L920.0,684.6 L923.0,684.6 L926.0,684.5 L929.0,684.4 L932.0,684.4 L935.0,684.3 L938.0,684.3 L941.0,684.2 L944.0,684.2 L947.0,684.1 L950.0,684.1 L953.0,684.0 L956.0,684.0 L959.0,683.9 L962.0,683.9 L965.0,683.8 L968.0,683.8 L971.0,683.7 L974.0,683.6 L977.0,683.6 L980.0,683.5 L983.0,683.5 L986.0,683.4 L989.0,683.4 L992.0,683.3 L995.0,683.3 L998.0,683.2 L1001.0,683.2 L1004.0,683.1 L1007.0,683.1 L1010.0,683.0 L1013.0,683.0 L1016.0,682.9 L1019.0,682.9 L1022.0,682.8 L1025.0,682.8 L1028.0,682.7 L1031.0,682.7 L1034.0,682.6 L1037.0,682.5 L1040.0,682.5 L1043.0,682.4 L1046.0,682.4 L1049.0,682.3 L1052.0,682.3 L1055.0,682.2 L1058.0,682.2 L1061.0,682.1 L1064.0,682.1 L1067.0,682.0 L1070.0,682.0 L1073.0,681.9 L1076.0,681.9 L1079.0,681.8 L1082.0,681.8 L1085.0,681.7 L1088.0,681.7 L1091.0,681.6 L1094.0,681.6 L1097.0,681.5 L1100.0,681.5 L1103.0,681.4 L1106.0,681.4 L1109.0,681.3 L1112.0,681.2 L1115.0,681.2 L1118.0,681.1 L1121.0,681.1 L1124.0,681.0 L1127.0,681.0 L1130.0,680.9 L1133.0,680.9 L1135.0,680.8" stroke="#780c78" stroke-width="5" fill="none" stroke-linejoin="round"/>
<path d="M560.0,767.2 L563.0,767.2 L566.0,767.2 L569.0,767.3 L572.0,767.3 L575.0,767.4 L578.0,767.5 L581.0,767.5 L584.0,767.6 L587.0,767.7 L590.0,767.8 L593.0,767.9 L596.0,768.0 L599.0,768.2 L602.0,768.3 L605.0,768.5 L608.0,768.7 L611.0,768.8 L614.0,769.0 L617.0,769.3 L620.0,769.5 L623.0,769.8 L626.0,770.1 L629.0,770.4 L632.0,770.7 L635.0,771.1 L638.0,771.4 L641.0,771.9 L644.0,772.3 L647.0,772.8 L650.0,773.4 L653.0,774.0 L656.0,774.6 L659.0,775.3 L662.0,776.0 L665.0,776.8 L668.0,777.6 L671.0,778.5 L674.0,779.4 L677.0,780.4 L680.0,781.4 L683.0,782.5 L686.0,783.7 L689.0,784.9 L692.0,786.2 L695.0,787.5 L698.0,788.9 L701.0,790.4 L704.0,791.9 L707.0,793.5 L710.0,795.1 L713.0,796.8 L716.0,798.5 L719.0,800.2 L722.0,802.0 L725.0,803.8 L728.0,805.6 L731.0,807.4 L734.0,809.2 L737.0,810.9 L740.0,812.7 L743.0,814.4 L746.0,816.1 L749.0,817.7 L752.0,819.3 L755.0,820.9 L758.0,822.3 L761.0,823.7 L764.0,825.1 L767.0,826.3 L770.0,827.5 L773.0,828.6 L776.0,829.7 L779.0,830.7 L782.0,831.6 L785.0,832.4 L788.0,833.2 L791.0,833.9 L794.0,834.6 L797.0,835.2 L800.0,835.8 L803.0,836.3 L806.0,836.8 L809.0,837.3 L812.0,837.7 L815.0,838.0 L818.0,838.4 L821.0,838.7 L824.0,838.9 L827.0,839.2 L830.0,839.4 L833.0,839.6 L836.0,839.8 L839.0,840.0 L842.0,840.2 L845.0,840.3 L848.0,840.5 L851.0,840.6 L854.0,840.7 L857.0,840.8 L860.0,840.9 L863.0,841.0 L866.0,841.1 L869.0,841.2 L872.0,841.2 L875.0,841.3 L878.0,841.4 L881.0,841.4 L884.0,841.5 L887.0,841.5 L890.0,841.6 L893.0,841.6 L896.0,841.7 L899.0,841.7 L902.0,841.8 L905.0,841.8 L908.0,841.8 L911.0,841.9 L914.0,841.9 L917.0,842.0 L920.0,842.0 L923.0,842.0 L926.0,842.0 L929.0,842.1 L932.0,842.1 L935.0,842.1 L938.0,842.2 L941.0,842.2 L944.0,842.2 L947.0,842.2 L950.0,842.3 L953.0,842.3 L956.0,842.3 L959.0,842.3 L962.0,842.4 L965.0,842.4 L968.0,842.4 L971.0,842.4 L974.0,842.5 L977.0,842.5 L980.0,842.5 L983.0,842.5 L986.0,842.6 L989.0,842.6 L992.0,842.6 L995.0,842.6 L998.0,842.7 L1001.0,842.7 L1004.0,842.7 L1007.0,842.7 L1010.0,842.8 L1013.0,842.8 L1016.0,842.8 L1019.0,842.8 L1022.0,842.9 L1025.0,842.9 L1028.0,842.9 L1031.0,842.9 L1034.0,842.9 L1037.0,843.0 L1040.0,843.0 L1043.0,843.0 L1046.0,843.0 L1049.0,843.1 L1052.0,843.1 L1055.0,843.1 L1058.0,843.1 L1061.0,843.2 L1064.0,843.2 L1067.0,843.2 L1070.0,843.2 L1073.0,843.2 L1076.0,843.3 L1079.0,843.3 L1082.0,843.3 L1085.0,843.3 L1088.0,843.4 L1091.0,843.4 L1094.0,843.4 L1097.0,843.4 L1100.0,843.5 L1103.0,843.5 L1106.0,843.5 L1109.0,843.5 L1112.0,843.6 L1115.0,843.6 L1118.0,843.6 L1121.0,843.6 L1124.0,843.6 L1127.0,843.7 L1130.0,843.7 L1133.0,843.7 L1135.0,843.7" stroke="#780c78" stroke-width="5" fill="none" stroke-linejoin="round"/>
<path d="M560.0,766.1 L563.0,766.0 L566.0,766.0 L569.0,765.9 L572.0,765.8 L575.0,765.7 L578.0,765.7 L581.0,765.6 L584.0,765.5 L587.0,765.4 L590.0,765.2 L593.0,765.1 L596.0,765.0 L599.0,764.8 L602.0,764.7 L605.0,764.5 L608.0,764.3 L611.0,764.1 L614.0,763.9 L617.0,763.6 L620.0,763.3 L623.0,763.0 L626.0,762.7 L629.0,762.3 L632.0,761.9 L635.0,761.4 L638.0,760.9 L641.0,760.3 L644.0,759.7 L647.0,759.0 L650.0,758.3 L653.0,757.5 L656.0,756.6 L659.0,755.7 L662.0,754.6 L665.0,753.4 L668.0,752.2 L671.0,750.8 L674.0,749.3 L677.0,747.7 L680.0,745.9 L683.0,744.0 L686.0,742.0 L689.0,739.9 L692.0,737.6 L695.0,735.2 L698.0,732.6 L701.0,729.9 L704.0,727.1 L707.0,724.2 L710.0,721.2 L713.0,718.1 L716.0,715.0 L719.0,711.8 L722.0,708.5 L725.0,705.3 L728.0,702.0 L731.0,698.8 L734.0,695.6 L737.0,692.5 L740.0,689.4 L743.0,686.5 L746.0,683.6 L749.0,680.8 L752.0,678.2 L755.0,675.6 L758.0,673.2 L761.0,670.9 L764.0,668.8 L767.0,666.8 L770.0,664.9 L773.0,663.1 L776.0,661.4 L779.0,659.9 L782.0,658.5 L785.0,657.2 L788.0,655.9 L791.0,654.8 L794.0,653.8 L797.0,652.8 L800.0,651.9 L803.0,651.1 L806.0,650.4 L809.0,649.7 L812.0,649.1 L815.0,648.5 L818.0,648.0 L821.0,647.5 L824.0,647.0 L827.0,646.6 L830.0,646.2 L833.0,645.9 L836.0,645.5 L839.0,645.2 L842.0,645.0 L845.0,644.7 L848.0,644.5 L851.0,644.2 L854.0,644.0 L857.0,643.8 L860.0,643.7 L863.0,643.5 L866.0,643.3 L869.0,643.2 L872.0,643.0 L875.0,642.9 L878.0,642.8 L881.0,642.6 L884.0,642.5 L887.0,642.4 L890.0,642.3 L893.0,642.2 L896.0,642.1 L899.0,642.0 L902.0,641.9 L905.0,641.8 L908.0,641.7 L911.0,641.6 L914.0,641.5 L917.0,641.5 L920.0,641.4 L923.0,641.3 L926.0,641.2 L929.0,641.1 L932.0,641.1 L935.0,641.0 L938.0,640.9 L941.0,640.8 L944.0,640.8 L947.0,640.7 L950.0,640.6 L953.0,640.5 L956.0,640.5 L959.0,640.4 L962.0,640.3 L965.0,640.2 L968.0,640.2 L971.0,640.1 L974.0,640.0 L977.0,640.0 L980.0,639.9 L983.0,639.8 L986.0,639.7 L989.0,639.7 L992.0,639.6 L995.0,639.5 L998.0,639.5 L1001.0,639.4 L1004.0,639.3 L1007.0,639.3 L1010.0,639.2 L1013.0,639.1 L1016.0,639.1 L1019.0,639.0 L1022.0,638.9 L1025.0,638.8 L1028.0,638.8 L1031.0,638.7 L1034.0,638.6 L1037.0,638.6 L1040.0,638.5 L1043.0,638.4 L1046.0,638.4 L1049.0,638.3 L1052.0,638.2 L1055.0,638.2 L1058.0,638.1 L1061.0,638.0 L1064.0,638.0 L1067.0,637.9 L1070.0,637.8 L1073.0,637.7 L1076.0,637.7 L1079.0,637.6 L1082.0,637.5 L1085.0,637.5 L1088.0,637.4 L1091.0,637.3 L1094.0,637.3 L1097.0,637.2 L1100.0,637.1 L1103.0,637.1 L1106.0,637.0 L1109.0,636.9 L1112.0,636.9 L1115.0,636.8 L1118.0,636.7 L1121.0,636.6 L1124.0,636.6 L1127.0,636.5 L1130.0,636.4 L1133.0,636.4 L1135.0,636.3" stroke="#858585" stroke-width="5.5" fill="none" stroke-linejoin="round"/>
<path d="M560.0,768.3 L563.0,768.4 L566.0,768.5 L569.0,768.6 L572.0,768.8 L575.0,768.9 L578.0,769.1 L581.0,769.2 L584.0,769.4 L587.0,769.6 L590.0,769.8 L593.0,770.0 L596.0,770.3 L599.0,770.5 L602.0,770.8 L605.0,771.1 L608.0,771.4 L611.0,771.7 L614.0,772.1 L617.0,772.5 L620.0,772.9 L623.0,773.4 L626.0,773.8 L629.0,774.4 L632.0,774.9 L635.0,775.5 L638.0,776.1 L641.0,776.8 L644.0,777.5 L647.0,778.3 L650.0,779.1 L653.0,780.0 L656.0,781.0 L659.0,782.0 L662.0,783.0 L665.0,784.2 L668.0,785.4 L671.0,786.6 L674.0,788.0 L677.0,789.4 L680.0,790.9 L683.0,792.5 L686.0,794.2 L689.0,796.0 L692.0,797.9 L695.0,799.8 L698.0,801.9 L701.0,804.0 L704.0,806.2 L707.0,808.5 L710.0,810.9 L713.0,813.4 L716.0,816.0 L719.0,818.6 L722.0,821.3 L725.0,824.1 L728.0,826.9 L731.0,829.7 L734.0,832.5 L737.0,835.3 L740.0,838.1 L743.0,840.9 L746.0,843.6 L749.0,846.3 L752.0,848.9 L755.0,851.4 L758.0,853.8 L761.0,856.2 L764.0,858.4 L767.0,860.4 L770.0,862.4 L773.0,864.3 L776.0,866.0 L779.0,867.6 L782.0,869.0 L785.0,870.4 L788.0,871.7 L791.0,872.8 L794.0,873.9 L797.0,874.8 L800.0,875.7 L803.0,876.5 L806.0,877.2 L809.0,877.9 L812.0,878.5 L815.0,879.0 L818.0,879.5 L821.0,879.9 L824.0,880.3 L827.0,880.6 L830.0,881.0 L833.0,881.3 L836.0,881.5 L839.0,881.8 L842.0,882.0 L845.0,882.2 L848.0,882.3 L851.0,882.5 L854.0,882.7 L857.0,882.8 L860.0,882.9 L863.0,883.0 L866.0,883.1 L869.0,883.2 L872.0,883.3 L875.0,883.4 L878.0,883.5 L881.0,883.6 L884.0,883.6 L887.0,883.7 L890.0,883.8 L893.0,883.8 L896.0,883.9 L899.0,884.0 L902.0,884.0 L905.0,884.1 L908.0,884.1 L911.0,884.2 L914.0,884.2 L917.0,884.3 L920.0,884.3 L923.0,884.3 L926.0,884.4 L929.0,884.4 L932.0,884.5 L935.0,884.5 L938.0,884.6 L941.0,884.6 L944.0,884.6 L947.0,884.7 L950.0,884.7 L953.0,884.8 L956.0,884.8 L959.0,884.8 L962.0,884.9 L965.0,884.9 L968.0,885.0 L971.0,885.0 L974.0,885.0 L977.0,885.1 L980.0,885.1 L983.0,885.2 L986.0,885.2 L989.0,885.2 L992.0,885.3 L995.0,885.3 L998.0,885.4 L1001.0,885.4 L1004.0,885.4 L1007.0,885.5 L1010.0,885.5 L1013.0,885.6 L1016.0,885.6 L1019.0,885.6 L1022.0,885.7 L1025.0,885.7 L1028.0,885.7 L1031.0,885.8 L1034.0,885.8 L1037.0,885.9 L1040.0,885.9 L1043.0,885.9 L1046.0,886.0 L1049.0,886.0 L1052.0,886.1 L1055.0,886.1 L1058.0,886.1 L1061.0,886.2 L1064.0,886.2 L1067.0,886.2 L1070.0,886.3 L1073.0,886.3 L1076.0,886.4 L1079.0,886.4 L1082.0,886.4 L1085.0,886.5 L1088.0,886.5 L1091.0,886.6 L1094.0,886.6 L1097.0,886.6 L1100.0,886.7 L1103.0,886.7 L1106.0,886.7 L1109.0,886.8 L1112.0,886.8 L1115.0,886.9 L1118.0,886.9 L1121.0,886.9 L1124.0,887.0 L1127.0,887.0 L1130.0,887.1 L1133.0,887.1 L1135.0,887.1" stroke="#8c8c8c" stroke-width="3.2" fill="none" stroke-linejoin="round"/>
<path d="M245.0,775.5 L247.0,775.5 L249.0,775.5 L251.0,775.5 L253.0,775.5 L255.0,775.5 L257.0,775.4 L259.0,775.4 L261.0,775.4 L263.0,775.4 L265.0,775.4 L267.0,775.4 L269.0,775.4 L271.0,775.4 L273.0,775.4 L275.0,775.4 L277.0,775.4 L279.0,775.4 L281.0,775.3 L283.0,775.3 L285.0,775.3 L287.0,775.3 L289.1,775.3 L291.2,775.2 L293.3,775.1 L295.3,775.0 L297.3,774.9 L299.3,774.8 L301.3,774.7 L303.3,774.5 L305.3,774.4 L307.3,774.3 L309.3,774.2 L311.3,774.1 L313.3,774.0 L315.3,773.9 L317.3,773.7 L319.3,773.6 L321.3,773.5 L323.3,773.4 L325.3,773.3 L327.3,773.2 L329.2,773.1 L331.1,773.0 L333.0,773.0 L335.0,773.0 L337.0,773.0 L339.0,773.0 L341.0,772.9 L343.0,772.9 L345.0,772.9 L347.0,772.9 L349.0,772.9 L351.0,772.9 L353.0,772.9 L355.0,772.9 L357.0,772.9 L359.0,772.9 L361.0,772.8 L363.0,772.8 L365.0,772.8 L367.0,772.8 L369.0,772.8 L371.0,772.8 L373.0,772.8 L375.0,772.8 L377.0,772.8 L379.0,772.8 L381.0,772.7 L383.0,772.7 L385.0,772.7 L387.0,772.7 L389.0,772.7 L391.0,772.7 L393.0,772.7 L395.0,772.7 L397.0,772.7 L399.0,772.7 L401.0,772.6 L403.0,772.6 L405.0,772.6 L407.0,772.6 L409.0,772.6 L411.0,772.6 L413.0,772.6 L415.0,772.6 L417.0,772.6 L419.0,772.6 L421.0,772.6 L423.0,772.6 L425.0,772.6 L427.0,772.5 L429.0,772.5 L431.0,772.5 L433.0,772.5 L435.0,772.5 L437.0,772.5 L439.0,772.5 L441.0,772.5 L443.0,772.5 L445.0,772.5 L447.0,772.5 L449.0,772.5 L451.0,772.5 L453.0,772.5 L455.0,772.5 L457.0,772.5 L459.0,772.5 L461.0,772.5 L463.0,772.5 L465.0,772.5 L467.0,772.5 L469.0,772.5 L471.0,772.5 L473.0,772.5 L475.0,772.5 L477.0,772.5 L479.0,772.5 L481.0,772.5 L483.0,772.5 L485.0,772.5 L487.0,772.5 L488.8,772.5 L490.5,772.6 L492.3,772.8 L494.3,773.1 L496.3,773.4 L498.3,773.7 L500.3,773.9 L502.3,774.2 L504.6,774.5 L507.0,774.6 L509.0,774.6 L511.0,774.6 L512.9,774.6 L514.9,774.6 L516.9,774.7 L518.9,774.7 L520.9,774.7 L522.9,774.7 L524.9,774.8 L526.9,774.8 L528.9,774.9 L530.9,774.9 L532.9,774.9 L534.9,775.0 L536.9,775.0 L538.9,775.1 L540.9,775.1 L542.8,775.2 L544.8,775.3 L546.8,775.3 L548.8,775.4 L550.8,775.5 L552.8,775.6 L554.8,775.7 L556.8,775.8 L558.8,775.9 L560.9,775.9 L563.0,775.9 L564.9,776.0 L566.9,776.0 L568.9,776.0 L570.9,776.1 L572.9,776.1 L574.8,776.2 L576.8,776.2 L578.8,776.3 L580.8,776.4 L582.8,776.5 L584.7,776.6 L586.7,776.7 L588.7,776.8 L590.6,777.0 L592.6,777.1 L594.6,777.3 L596.5,777.4 L598.4,777.6 L600.3,777.9 L602.2,778.2 L604.1,778.5 L606.1,778.9 L608.0,779.3 L610.0,779.7 L611.9,780.1 L613.9,780.5 L615.8,781.0 L617.8,781.4 L619.7,781.9 L621.7,782.5 L623.6,783.0 L625.5,783.6 L627.5,784.2 L629.4,784.9 L631.3,785.5 L633.2,786.2 L635.2,787.0 L637.1,787.7 L639.0,788.5 L640.9,789.4 L642.8,790.3 L644.7,791.2 L646.6,792.2 L648.5,793.2 L650.4,794.3 L652.3,795.4 L654.3,796.6 L656.2,797.9 L658.1,799.2 L660.0,800.5 L661.9,801.9 L663.8,803.4 L665.7,805.0 L667.6,806.6 L669.5,808.3 L671.5,810.0 L673.4,811.9 L675.3,813.8 L677.2,815.8 L679.1,817.9 L681.1,820.0 L683.0,822.3 L684.9,824.6 L686.9,827.1 L688.8,829.6 L690.8,832.2 L692.7,834.9 L694.7,837.7 L696.6,840.6 L698.6,843.6 L700.6,846.7 L702.5,849.9 L704.5,853.2 L706.5,856.5 L708.5,859.9 L710.4,863.4 L712.4,867.0 L714.4,870.7 L716.4,874.4 L718.4,878.1 L720.4,882.0 L722.4,885.8 L724.4,889.7 L726.4,893.6 L728.4,897.5 L730.4,901.4 L732.4,905.3 L734.4,909.2 L736.4,913.0 L738.5,916.8 L740.5,920.6 L742.5,924.3 L744.5,928.0 L746.6,931.6 L748.6,935.1 L750.6,938.5 L752.7,941.8 L754.7,945.0 L756.8,948.1 L758.8,951.2 L760.9,954.1 L762.9,956.9 L765.0,959.6 L767.1,962.1 L769.2,964.6 L771.3,966.9 L773.3,969.2 L775.4,971.3 L777.5,973.3 L779.7,975.3 L781.8,977.1 L783.9,978.8 L786.0,980.4 L788.1,981.9 L790.2,983.4 L792.4,984.7 L794.5,986.0 L796.6,987.2 L798.7,988.3 L800.8,989.3 L803.0,990.3 L805.1,991.2 L807.2,992.0 L809.3,992.8 L811.4,993.6 L813.5,994.3 L815.6,994.9 L817.7,995.5 L819.7,996.1 L821.8,996.6 L823.9,997.1 L826.0,997.5 L828.0,997.9 L830.1,998.3 L832.1,998.7 L834.2,999.1 L836.2,999.4 L838.3,999.7 L840.3,1000.0 L842.4,1000.3 L844.4,1000.5 L846.4,1000.8 L848.5,1001.0 L850.5,1001.2 L852.5,1001.4 L854.5,1001.6 L856.6,1001.8 L858.6,1002.0 L860.6,1002.1 L862.6,1002.3 L864.6,1002.4 L866.6,1002.6 L868.7,1002.7 L870.7,1002.9 L872.7,1003.0 L874.7,1003.1 L876.7,1003.2 L878.7,1003.4 L880.7,1003.5 L882.7,1003.6 L884.7,1003.7 L886.7,1003.8 L888.8,1003.9 L890.8,1004.0 L892.8,1004.1 L894.8,1004.2 L896.8,1004.3 L898.7,1004.4 L900.7,1004.5 L902.6,1004.6 L904.6,1004.8 L906.6,1004.9 L908.6,1005.1 L910.6,1005.2 L912.6,1005.4 L914.6,1005.5 L916.7,1005.7 L918.7,1005.8 L920.7,1006.0 L922.7,1006.1 L924.7,1006.2 L926.7,1006.4 L928.7,1006.5 L930.7,1006.6 L932.8,1006.7 L934.8,1006.8 L936.8,1006.9 L938.8,1007.0 L940.8,1007.1 L942.8,1007.2 L944.8,1007.3 L946.8,1007.4 L948.8,1007.5 L950.8,1007.6 L952.8,1007.7 L954.8,1007.8 L956.8,1007.8 L958.8,1007.9 L960.8,1008.0 L962.8,1008.1 L964.8,1008.1 L966.8,1008.2 L968.8,1008.3 L970.8,1008.4 L972.8,1008.5 L974.8,1008.5 L976.8,1008.6 L978.8,1008.7 L980.8,1008.8 L982.8,1008.8 L984.8,1008.9 L986.8,1009.0 L988.8,1009.1 L990.8,1009.2 L992.8,1009.2 L994.8,1009.3 L996.8,1009.4 L998.8,1009.5 L1000.9,1009.5 L1002.9,1009.6 L1004.9,1009.6 L1006.9,1009.6 L1008.9,1009.7 L1010.9,1009.7 L1012.9,1009.8 L1014.9,1009.8 L1016.9,1009.8 L1018.9,1009.9 L1020.9,1009.9 L1022.9,1010.0 L1024.9,1010.0 L1026.9,1010.0 L1028.9,1010.1 L1030.9,1010.1 L1032.9,1010.1 L1034.9,1010.2 L1036.9,1010.2 L1038.9,1010.3 L1041.0,1010.3 L1043.0,1010.3 L1045.0,1010.3 L1047.0,1010.3 L1049.0,1010.3 L1051.0,1010.3 L1053.0,1010.3 L1055.0,1010.3 L1057.0,1010.3 L1059.0,1010.3 L1061.0,1010.3 L1063.0,1010.3 L1065.0,1010.3 L1067.0,1010.3 L1069.0,1010.3 L1071.0,1010.3 L1073.0,1010.3 L1075.0,1010.4 L1077.0,1010.4 L1079.0,1010.4 L1081.0,1010.4 L1083.0,1010.4 L1085.0,1010.4 L1087.0,1010.4 L1089.0,1010.4 L1091.0,1010.4 L1093.0,1010.4 L1095.0,1010.4 L1097.0,1010.4 L1099.0,1010.4 L1101.0,1010.4 L1103.0,1010.4 L1105.0,1010.4 L1107.0,1010.4 L1109.0,1010.4 L1111.0,1010.4 L1113.0,1010.4 L1115.0,1010.4 L1117.0,1010.4 L1119.0,1010.4 L1121.0,1010.4 L1123.0,1010.4 L1125.0,1010.4 L1127.0,1010.3 L1129.0,1010.3 L1131.0,1010.3 L1132.0,1010.3 A3.3,3.3 0 0 0 1132.0,1003.8 L1132.0,1003.8 L1131.0,1003.8 L1129.0,1003.8 L1127.0,1003.8 L1125.0,1003.8 L1123.0,1003.8 L1121.0,1003.8 L1119.0,1003.8 L1117.0,1003.8 L1115.0,1003.8 L1113.0,1003.8 L1111.0,1003.8 L1109.0,1003.7 L1107.0,1003.7 L1105.0,1003.7 L1103.0,1003.7 L1101.0,1003.7 L1099.0,1003.7 L1097.0,1003.7 L1095.0,1003.7 L1093.0,1003.7 L1091.0,1003.7 L1089.0,1003.6 L1087.0,1003.6 L1085.0,1003.6 L1083.0,1003.6 L1081.0,1003.6 L1079.0,1003.6 L1077.0,1003.5 L1075.0,1003.5 L1073.0,1003.5 L1071.0,1003.5 L1069.0,1003.5 L1067.0,1003.5 L1065.0,1003.5 L1063.0,1003.4 L1061.0,1003.4 L1059.0,1003.4 L1057.0,1003.4 L1055.0,1003.4 L1053.0,1003.4 L1051.0,1003.4 L1049.0,1003.3 L1047.0,1003.3 L1045.0,1003.3 L1043.0,1003.3 L1041.0,1003.3 L1039.1,1003.2 L1037.1,1003.2 L1035.1,1003.1 L1033.1,1003.0 L1031.1,1002.9 L1029.1,1002.8 L1027.1,1002.7 L1025.1,1002.7 L1023.1,1002.6 L1021.1,1002.5 L1019.1,1002.4 L1017.1,1002.3 L1015.1,1002.2 L1013.1,1002.2 L1011.1,1002.1 L1009.1,1002.0 L1007.1,1001.9 L1005.1,1001.8 L1003.1,1001.7 L1001.1,1001.7 L999.2,1001.6 L997.2,1001.4 L995.2,1001.3 L993.2,1001.2 L991.2,1001.1 L989.2,1001.0 L987.2,1000.8 L985.2,1000.7 L983.2,1000.6 L981.2,1000.5 L979.2,1000.3 L977.2,1000.2 L975.2,1000.1 L973.2,1000.0 L971.2,999.9 L969.2,999.7 L967.2,999.6 L965.2,999.5 L963.2,999.4 L961.2,999.2 L959.2,999.1 L957.2,999.0 L955.2,998.9 L953.2,998.8 L951.2,998.6 L949.2,998.5 L947.2,998.4 L945.2,998.3 L943.2,998.2 L941.2,998.1 L939.2,998.0 L937.2,997.9 L935.2,997.8 L933.2,997.6 L931.3,997.5 L929.3,997.4 L927.3,997.3 L925.3,997.1 L923.3,996.9 L921.3,996.8 L919.3,996.6 L917.3,996.5 L915.4,996.3 L913.4,996.2 L911.4,996.0 L909.4,995.8 L907.4,995.7 L905.4,995.5 L903.4,995.3 L901.3,995.2 L899.3,995.0 L897.2,994.9 L895.2,994.8 L893.2,994.7 L891.2,994.6 L889.2,994.5 L887.3,994.4 L885.3,994.3 L883.3,994.1 L881.3,994.0 L879.3,993.9 L877.3,993.8 L875.3,993.6 L873.3,993.5 L871.3,993.4 L869.3,993.2 L867.4,993.1 L865.4,992.9 L863.4,992.7 L861.4,992.6 L859.4,992.4 L857.4,992.2 L855.5,992.0 L853.5,991.8 L851.5,991.6 L849.5,991.4 L847.6,991.1 L845.6,990.9 L843.6,990.6 L841.7,990.4 L839.7,990.1 L837.8,989.8 L835.8,989.4 L833.9,989.1 L831.9,988.7 L830.0,988.3 L828.0,987.9 L826.1,987.5 L824.2,987.0 L822.3,986.5 L820.3,986.0 L818.4,985.4 L816.5,984.8 L814.6,984.2 L812.7,983.5 L810.8,982.8 L808.9,982.0 L807.0,981.2 L805.2,980.3 L803.3,979.4 L801.4,978.4 L799.5,977.3 L797.6,976.2 L795.8,975.0 L793.9,973.7 L792.0,972.3 L790.1,970.9 L788.2,969.3 L786.3,967.7 L784.5,966.0 L782.6,964.1 L780.7,962.2 L778.7,960.1 L776.8,958.0 L774.9,955.7 L773.0,953.3 L771.1,950.8 L769.1,948.1 L767.2,945.4 L765.2,942.5 L763.3,939.5 L761.3,936.4 L759.4,933.2 L757.4,929.9 L755.4,926.5 L753.5,923.0 L751.5,919.4 L749.5,915.7 L747.5,912.0 L745.6,908.2 L743.6,904.4 L741.6,900.6 L739.6,896.7 L737.6,892.8 L735.6,888.9 L733.6,884.9 L731.6,881.0 L729.6,877.2 L727.6,873.3 L725.6,869.5 L723.6,865.7 L721.6,862.0 L719.6,858.4 L717.5,854.8 L715.5,851.3 L713.5,847.8 L711.5,844.4 L709.4,841.1 L707.4,837.9 L705.4,834.8 L703.3,831.8 L701.3,828.9 L699.2,826.0 L697.2,823.3 L695.1,820.6 L693.1,818.0 L691.0,815.5 L688.9,813.1 L686.9,810.8 L684.8,808.6 L682.7,806.5 L680.6,804.4 L678.5,802.4 L676.5,800.5 L674.4,798.7 L672.3,797.0 L670.2,795.3 L668.1,793.7 L666.0,792.2 L663.9,790.7 L661.8,789.3 L659.7,787.9 L657.7,786.6 L655.6,785.4 L653.5,784.2 L651.4,783.1 L649.3,782.1 L647.2,781.0 L645.1,780.1 L643.0,779.2 L640.9,778.3 L638.8,777.5 L636.8,776.7 L634.7,775.9 L632.6,775.2 L630.5,774.6 L628.5,773.9 L626.4,773.3 L624.3,772.7 L622.3,772.2 L620.2,771.7 L618.2,771.2 L616.1,770.7 L614.1,770.2 L612.0,769.8 L610.0,769.4 L607.9,769.0 L605.9,768.7 L603.8,768.3 L601.7,768.0 L599.6,767.7 L597.5,767.5 L595.4,767.3 L593.4,767.1 L591.4,767.0 L589.3,766.8 L587.3,766.7 L585.3,766.6 L583.2,766.5 L581.2,766.4 L579.2,766.3 L577.2,766.2 L575.2,766.2 L573.1,766.1 L571.1,766.1 L569.1,766.0 L567.1,766.0 L565.1,766.0 L563.0,765.9 L561.1,765.9 L559.2,765.9 L557.2,765.8 L555.2,765.7 L553.2,765.6 L551.2,765.5 L549.2,765.4 L547.2,765.3 L545.2,765.3 L543.2,765.2 L541.1,765.2 L539.1,765.1 L537.1,765.0 L535.1,765.0 L533.1,764.9 L531.1,764.9 L529.1,764.9 L527.1,764.8 L525.1,764.8 L523.1,764.7 L521.1,764.7 L519.1,764.7 L517.1,764.7 L515.1,764.6 L513.1,764.6 L511.0,764.6 L509.0,764.6 L507.0,764.6 L505.4,764.6 L503.7,764.3 L501.7,764.0 L499.7,763.8 L497.7,763.5 L495.7,763.2 L493.7,762.9 L491.5,762.6 L489.2,762.5 L487.0,762.5 L485.0,762.5 L483.0,762.5 L481.0,762.5 L479.0,762.5 L477.0,762.5 L475.0,762.5 L473.0,762.5 L471.0,762.5 L469.0,762.5 L467.0,762.5 L465.0,762.5 L463.0,762.5 L461.0,762.5 L459.0,762.5 L457.0,762.5 L455.0,762.5 L453.0,762.5 L451.0,762.5 L449.0,762.5 L447.0,762.5 L445.0,762.5 L443.0,762.5 L441.0,762.5 L439.0,762.5 L437.0,762.5 L435.0,762.5 L433.0,762.5 L431.0,762.5 L429.0,762.5 L427.0,762.5 L425.0,762.6 L423.0,762.6 L421.0,762.6 L419.0,762.6 L417.0,762.6 L415.0,762.6 L413.0,762.6 L411.0,762.6 L409.0,762.6 L407.0,762.6 L405.0,762.6 L403.0,762.6 L401.0,762.6 L399.0,762.7 L397.0,762.7 L395.0,762.7 L393.0,762.7 L391.0,762.7 L389.0,762.7 L387.0,762.7 L385.0,762.7 L383.0,762.7 L381.0,762.7 L379.0,762.8 L377.0,762.8 L375.0,762.8 L373.0,762.8 L371.0,762.8 L369.0,762.8 L367.0,762.8 L365.0,762.8 L363.0,762.8 L361.0,762.8 L359.0,762.9 L357.0,762.9 L355.0,762.9 L353.0,762.9 L351.0,762.9 L349.0,762.9 L347.0,762.9 L345.0,762.9 L343.0,762.9 L341.0,763.0 L339.0,763.0 L337.0,763.0 L335.0,763.0 L333.0,763.0 L330.9,763.0 L328.8,763.1 L326.7,763.2 L324.7,763.3 L322.7,763.4 L320.7,763.5 L318.7,763.6 L316.7,763.8 L314.7,763.9 L312.7,764.0 L310.7,764.1 L308.7,764.2 L306.7,764.3 L304.7,764.5 L302.7,764.6 L300.7,764.7 L298.7,764.8 L296.7,764.9 L294.7,765.0 L292.7,765.1 L290.8,765.3 L288.9,765.3 L287.0,765.3 L285.0,765.3 L283.0,765.3 L281.0,765.3 L279.0,765.4 L277.0,765.4 L275.0,765.4 L273.0,765.4 L271.0,765.4 L269.0,765.4 L267.0,765.4 L265.0,765.4 L263.0,765.4 L261.0,765.4 L259.0,765.4 L257.0,765.4 L255.0,765.5 L253.0,765.5 L251.0,765.5 L249.0,765.5 L247.0,765.5 L245.0,765.5 Z" fill="#8c0205"/>
<path d="M245.0,775.7 L247.0,775.7 L249.0,775.7 L251.0,775.7 L253.0,775.7 L255.0,775.7 L257.0,775.7 L259.0,775.7 L261.0,775.7 L263.0,775.7 L265.0,775.7 L267.0,775.7 L269.0,775.6 L271.0,775.6 L273.0,775.6 L275.0,775.6 L277.0,775.6 L279.0,775.6 L281.0,775.6 L283.0,775.6 L285.0,775.6 L287.0,775.6 L289.1,775.6 L291.2,775.5 L293.3,775.4 L295.3,775.3 L297.3,775.1 L299.3,775.0 L301.3,774.9 L303.3,774.8 L305.3,774.7 L307.3,774.6 L309.3,774.4 L311.3,774.3 L313.3,774.2 L315.3,774.1 L317.3,774.0 L319.3,773.9 L321.3,773.8 L323.3,773.6 L325.3,773.5 L327.3,773.4 L329.2,773.3 L331.1,773.2 L333.0,773.2 L335.0,773.2 L337.0,773.2 L339.0,773.2 L341.0,773.2 L343.0,773.2 L345.0,773.2 L347.0,773.2 L349.0,773.1 L351.0,773.1 L353.0,773.1 L355.0,773.1 L357.0,773.1 L359.0,773.1 L361.0,773.1 L363.0,773.1 L365.0,773.0 L367.0,773.0 L369.0,773.0 L371.0,773.0 L373.0,773.0 L375.0,773.0 L377.0,773.0 L379.0,773.0 L381.0,773.0 L383.0,772.9 L385.0,772.9 L387.0,772.9 L389.0,772.9 L391.0,772.9 L393.0,772.9 L395.0,772.9 L397.0,772.9 L399.0,772.9 L401.0,772.8 L403.0,772.8 L405.0,772.8 L407.0,772.8 L409.0,772.8 L411.0,772.8 L413.0,772.8 L415.0,772.8 L417.0,772.7 L419.0,772.7 L421.0,772.7 L423.0,772.7 L425.0,772.7 L427.0,772.7 L429.0,772.7 L431.0,772.7 L433.0,772.6 L435.0,772.6 L437.0,772.6 L439.0,772.6 L441.0,772.6 L443.0,772.6 L445.0,772.6 L447.0,772.6 L449.0,772.5 L451.0,772.5 L453.0,772.5 L455.0,772.5 L457.0,772.5 L459.0,772.5 L461.0,772.5 L463.0,772.4 L465.0,772.4 L467.0,772.4 L469.0,772.4 L471.1,772.4 L473.1,772.4 L475.1,772.3 L477.1,772.3 L479.1,772.3 L481.1,772.3 L483.1,772.2 L485.1,772.2 L487.1,772.2 L489.1,772.2 L491.1,772.1 L493.1,772.1 L495.1,772.1 L497.1,772.1 L499.1,772.0 L501.1,772.0 L503.1,772.0 L505.1,771.9 L507.1,771.9 L509.1,771.9 L511.1,771.9 L513.1,771.8 L515.1,771.8 L517.1,771.8 L519.1,771.7 L521.1,771.7 L523.1,771.6 L525.1,771.6 L527.1,771.6 L529.1,771.5 L531.1,771.5 L533.1,771.4 L535.1,771.4 L537.1,771.3 L539.1,771.3 L541.1,771.2 L543.1,771.2 L545.2,771.1 L547.2,771.1 L549.2,771.0 L551.2,770.9 L553.2,770.9 L555.2,770.8 L557.2,770.7 L559.2,770.7 L561.2,770.6 L563.2,770.5 L565.2,770.4 L567.3,770.3 L569.3,770.2 L571.3,770.1 L573.3,770.0 L575.3,769.9 L577.3,769.7 L579.3,769.6 L581.4,769.5 L583.4,769.3 L585.4,769.2 L587.4,769.0 L589.5,768.8 L591.5,768.7 L593.5,768.5 L595.5,768.3 L597.6,768.0 L599.6,767.8 L601.6,767.6 L603.7,767.3 L605.7,767.1 L607.8,766.8 L609.8,766.5 L611.9,766.2 L613.9,765.8 L616.0,765.5 L618.0,765.1 L620.1,764.7 L622.2,764.2 L624.2,763.8 L626.3,763.3 L628.4,762.7 L630.5,762.2 L632.6,761.6 L634.6,760.9 L636.7,760.3 L638.8,759.5 L640.9,758.8 L643.0,758.0 L645.1,757.1 L647.2,756.2 L649.3,755.2 L651.5,754.2 L653.6,753.2 L655.7,752.0 L657.8,750.8 L659.9,749.5 L662.1,748.1 L664.2,746.7 L666.3,745.2 L668.4,743.6 L670.6,741.9 L672.7,740.1 L674.8,738.2 L676.9,736.2 L679.0,734.2 L681.1,732.0 L683.2,729.7 L685.3,727.3 L687.4,724.8 L689.5,722.2 L691.6,719.5 L693.6,716.6 L695.7,713.7 L697.8,710.6 L699.8,707.5 L701.9,704.2 L703.9,700.8 L706.0,697.3 L708.0,693.7 L710.0,689.9 L712.1,686.1 L714.1,682.2 L716.1,678.3 L718.1,674.2 L720.1,670.1 L722.2,665.9 L724.2,661.6 L726.2,657.3 L728.2,653.0 L730.2,648.7 L732.2,644.3 L734.2,640.0 L736.2,635.6 L738.1,631.3 L740.1,627.0 L742.1,622.8 L744.1,618.6 L746.1,614.5 L748.1,610.5 L750.0,606.5 L752.0,602.7 L754.0,598.9 L755.9,595.3 L757.9,591.8 L759.8,588.4 L761.8,585.1 L763.7,581.9 L765.7,578.9 L767.6,576.0 L769.6,573.2 L771.5,570.5 L773.4,568.0 L775.3,565.6 L777.2,563.3 L779.1,561.1 L781.0,559.0 L782.9,557.1 L784.8,555.3 L786.7,553.5 L788.6,551.9 L790.5,550.3 L792.3,548.9 L794.2,547.5 L796.1,546.2 L797.9,545.0 L799.8,543.8 L801.7,542.7 L803.6,541.7 L805.4,540.8 L807.3,539.9 L809.2,539.0 L811.1,538.3 L813.0,537.5 L814.9,536.8 L816.8,536.2 L818.7,535.5 L820.6,535.0 L822.5,534.4 L824.4,533.9 L826.4,533.4 L828.3,533.0 L830.2,532.5 L832.2,532.1 L834.1,531.7 L836.0,531.4 L838.0,531.0 L839.9,530.7 L841.9,530.4 L843.8,530.1 L845.8,529.8 L847.8,529.6 L849.7,529.3 L851.7,529.1 L853.7,528.9 L855.6,528.7 L857.6,528.5 L859.6,528.3 L861.6,528.1 L863.5,527.9 L865.5,527.8 L867.5,527.6 L869.5,527.4 L871.5,527.3 L873.4,527.1 L875.4,527.0 L877.4,526.9 L879.4,526.8 L881.4,526.6 L883.4,526.5 L885.4,526.4 L887.4,526.3 L889.4,526.2 L891.3,526.1 L893.3,526.0 L895.3,525.9 L897.3,525.8 L899.3,525.7 L901.3,525.6 L903.3,525.5 L905.3,525.4 L907.3,525.3 L909.3,525.2 L911.3,525.1 L913.3,525.0 L915.3,524.9 L917.3,524.8 L919.3,524.7 L921.3,524.6 L923.3,524.5 L925.3,524.4 L927.3,524.3 L929.3,524.2 L931.3,524.2 L933.3,524.1 L935.3,524.0 L937.3,523.9 L939.3,523.8 L941.3,523.7 L943.3,523.6 L945.3,523.6 L947.3,523.5 L949.2,523.4 L951.2,523.3 L953.2,523.2 L955.2,523.1 L957.2,523.1 L959.2,523.0 L961.2,522.9 L963.2,522.8 L965.2,522.7 L967.2,522.6 L969.2,522.6 L971.2,522.5 L973.2,522.4 L975.2,522.3 L977.2,522.2 L979.2,522.2 L981.2,522.1 L983.2,522.0 L985.2,521.9 L987.2,521.8 L989.2,521.8 L991.2,521.7 L993.2,521.6 L995.2,521.5 L997.2,521.4 L999.2,521.4 L1001.2,521.3 L1003.2,521.2 L1005.2,521.1 L1007.2,521.0 L1009.2,521.0 L1011.2,520.9 L1013.2,520.8 L1015.2,520.7 L1017.2,520.6 L1019.2,520.6 L1021.2,520.5 L1023.2,520.4 L1025.2,520.3 L1027.2,520.2 L1029.2,520.2 L1031.2,520.1 L1033.2,520.0 L1035.2,519.9 L1037.2,519.8 L1039.2,519.8 L1041.2,519.7 L1043.2,519.6 L1045.2,519.5 L1047.2,519.4 L1049.2,519.4 L1051.2,519.3 L1053.2,519.2 L1055.2,519.1 L1057.2,519.1 L1059.2,519.0 L1061.2,518.9 L1063.2,518.8 L1065.2,518.7 L1067.2,518.7 L1069.2,518.6 L1071.2,518.5 L1073.2,518.4 L1075.2,518.3 L1077.2,518.3 L1079.2,518.2 L1081.2,518.1 L1083.2,518.0 L1085.2,517.9 L1087.2,517.9 L1089.2,517.8 L1091.2,517.7 L1093.2,517.6 L1095.2,517.5 L1097.2,517.5 L1099.2,517.4 L1101.2,517.3 L1103.2,517.1 L1105.2,516.9 L1107.2,516.8 L1109.2,516.6 L1111.2,516.4 L1113.2,516.3 L1115.2,516.1 L1117.2,516.0 L1119.2,515.8 L1121.2,515.6 L1123.2,515.5 L1125.2,515.3 L1127.2,515.1 L1129.2,515.0 L1131.2,514.8 L1132.2,514.7 A4.7,4.7 0 0 0 1131.8,505.4 L1131.8,505.4 L1130.8,505.4 L1128.8,505.4 L1126.8,505.4 L1124.8,505.4 L1122.8,505.4 L1120.8,505.4 L1118.8,505.4 L1116.8,505.4 L1114.8,505.4 L1112.8,505.4 L1110.8,505.4 L1108.8,505.4 L1106.8,505.4 L1104.8,505.4 L1102.8,505.4 L1100.8,505.4 L1098.8,505.4 L1096.8,505.5 L1094.8,505.6 L1092.8,505.6 L1090.8,505.7 L1088.8,505.8 L1086.8,505.9 L1084.8,505.9 L1082.8,506.0 L1080.8,506.1 L1078.8,506.2 L1076.8,506.3 L1074.8,506.3 L1072.8,506.4 L1070.8,506.5 L1068.8,506.6 L1066.8,506.7 L1064.8,506.7 L1062.8,506.8 L1060.8,506.9 L1058.8,507.0 L1056.8,507.1 L1054.8,507.1 L1052.8,507.2 L1050.8,507.3 L1048.8,507.4 L1046.8,507.5 L1044.8,507.5 L1042.8,507.6 L1040.8,507.7 L1038.8,507.8 L1036.8,507.9 L1034.8,507.9 L1032.8,508.0 L1030.8,508.1 L1028.8,508.2 L1026.8,508.3 L1024.8,508.3 L1022.8,508.4 L1020.8,508.5 L1018.8,508.6 L1016.8,508.7 L1014.8,508.7 L1012.8,508.8 L1010.8,508.9 L1008.8,509.0 L1006.8,509.0 L1004.8,509.1 L1002.8,509.2 L1000.8,509.3 L998.8,509.4 L996.8,509.4 L994.8,509.5 L992.8,509.6 L990.8,509.7 L988.8,509.8 L986.8,509.8 L984.8,509.9 L982.8,510.0 L980.8,510.1 L978.8,510.2 L976.8,510.3 L974.8,510.3 L972.8,510.4 L970.8,510.5 L968.8,510.6 L966.8,510.7 L964.8,510.7 L962.8,510.8 L960.8,510.9 L958.8,511.0 L956.8,511.1 L954.8,511.1 L952.8,511.2 L950.8,511.3 L948.8,511.4 L946.7,511.5 L944.7,511.6 L942.7,511.7 L940.7,511.7 L938.7,511.8 L936.7,511.9 L934.7,512.0 L932.7,512.1 L930.7,512.2 L928.7,512.3 L926.7,512.3 L924.7,512.4 L922.7,512.5 L920.7,512.6 L918.7,512.7 L916.7,512.8 L914.7,512.9 L912.7,513.0 L910.7,513.1 L908.7,513.2 L906.7,513.3 L904.7,513.4 L902.7,513.5 L900.7,513.6 L898.7,513.7 L896.7,513.8 L894.7,513.9 L892.7,514.0 L890.7,514.2 L888.6,514.3 L886.6,514.4 L884.6,514.6 L882.6,514.7 L880.6,514.8 L878.6,515.0 L876.6,515.1 L874.6,515.3 L872.6,515.4 L870.5,515.6 L868.5,515.8 L866.5,516.0 L864.5,516.1 L862.5,516.3 L860.4,516.5 L858.4,516.7 L856.4,517.0 L854.4,517.2 L852.3,517.4 L850.3,517.7 L848.3,517.9 L846.2,518.2 L844.2,518.5 L842.2,518.8 L840.1,519.1 L838.1,519.5 L836.0,519.8 L834.0,520.2 L831.9,520.6 L829.8,521.0 L827.8,521.5 L825.7,522.0 L823.6,522.5 L821.6,523.0 L819.5,523.6 L817.4,524.2 L815.3,524.9 L813.2,525.6 L811.1,526.4 L809.0,527.1 L806.9,528.0 L804.8,528.9 L802.7,529.9 L800.6,530.9 L798.4,532.0 L796.3,533.1 L794.2,534.3 L792.1,535.6 L789.9,537.0 L787.8,538.5 L785.7,540.0 L783.5,541.7 L781.4,543.4 L779.3,545.2 L777.2,547.2 L775.1,549.2 L773.0,551.4 L770.9,553.6 L768.8,556.0 L766.7,558.5 L764.6,561.1 L762.5,563.8 L760.4,566.7 L758.4,569.7 L756.3,572.7 L754.3,575.9 L752.2,579.3 L750.2,582.7 L748.1,586.2 L746.1,589.9 L744.0,593.6 L742.0,597.5 L740.0,601.4 L737.9,605.5 L735.9,609.6 L733.9,613.7 L731.9,618.0 L729.9,622.2 L727.9,626.5 L725.8,630.9 L723.8,635.2 L721.8,639.6 L719.8,643.9 L717.8,648.2 L715.8,652.5 L713.8,656.7 L711.8,660.9 L709.9,665.1 L707.9,669.1 L705.9,673.1 L703.9,677.0 L701.9,680.8 L700.0,684.5 L698.0,688.1 L696.0,691.6 L694.1,694.9 L692.1,698.2 L690.2,701.3 L688.2,704.4 L686.3,707.3 L684.4,710.0 L682.4,712.7 L680.5,715.2 L678.6,717.7 L676.7,720.0 L674.8,722.2 L672.9,724.3 L671.0,726.3 L669.1,728.2 L667.2,730.0 L665.3,731.7 L663.4,733.3 L661.6,734.8 L659.7,736.2 L657.8,737.6 L655.9,738.9 L654.1,740.1 L652.2,741.3 L650.3,742.4 L648.4,743.4 L646.5,744.4 L644.7,745.3 L642.8,746.2 L640.9,747.1 L639.0,747.8 L637.1,748.6 L635.2,749.3 L633.3,750.0 L631.4,750.6 L629.4,751.2 L627.5,751.8 L625.6,752.3 L623.7,752.8 L621.8,753.3 L619.8,753.8 L617.9,754.2 L616.0,754.6 L614.0,755.0 L612.1,755.3 L610.1,755.7 L608.2,756.0 L606.2,756.3 L604.3,756.6 L602.3,756.9 L600.4,757.1 L598.4,757.4 L596.4,757.6 L594.5,757.8 L592.5,758.0 L590.5,758.2 L588.5,758.4 L586.6,758.6 L584.6,758.7 L582.6,758.9 L580.6,759.0 L578.7,759.1 L576.7,759.3 L574.7,759.4 L572.7,759.5 L570.7,759.6 L568.7,759.7 L566.7,759.8 L564.8,759.9 L562.8,760.0 L560.8,760.1 L558.8,760.2 L556.8,760.2 L554.8,760.3 L552.8,760.4 L550.8,760.4 L548.8,760.5 L546.8,760.6 L544.8,760.6 L542.9,760.7 L540.9,760.7 L538.9,760.8 L536.9,760.8 L534.9,760.9 L532.9,760.9 L530.9,761.0 L528.9,761.0 L526.9,761.1 L524.9,761.1 L522.9,761.1 L520.9,761.2 L518.9,761.2 L516.9,761.3 L514.9,761.3 L512.9,761.3 L510.9,761.4 L508.9,761.4 L506.9,761.4 L504.9,761.4 L502.9,761.5 L500.9,761.5 L498.9,761.5 L496.9,761.6 L494.9,761.6 L492.9,761.6 L490.9,761.6 L488.9,761.7 L486.9,761.7 L484.9,761.7 L482.9,761.7 L480.9,761.8 L478.9,761.8 L476.9,761.8 L474.9,761.8 L472.9,761.9 L470.9,761.9 L469.0,761.9 L467.0,761.9 L465.0,761.9 L463.0,761.9 L461.0,762.0 L459.0,762.0 L457.0,762.0 L455.0,762.0 L453.0,762.0 L451.0,762.0 L449.0,762.0 L447.0,762.1 L445.0,762.1 L443.0,762.1 L441.0,762.1 L439.0,762.1 L437.0,762.1 L435.0,762.1 L433.0,762.1 L431.0,762.2 L429.0,762.2 L427.0,762.2 L425.0,762.2 L423.0,762.2 L421.0,762.2 L419.0,762.2 L417.0,762.2 L415.0,762.3 L413.0,762.3 L411.0,762.3 L409.0,762.3 L407.0,762.3 L405.0,762.3 L403.0,762.3 L401.0,762.3 L399.0,762.4 L397.0,762.4 L395.0,762.4 L393.0,762.4 L391.0,762.4 L389.0,762.4 L387.0,762.4 L385.0,762.4 L383.0,762.4 L381.0,762.5 L379.0,762.5 L377.0,762.5 L375.0,762.5 L373.0,762.5 L371.0,762.5 L369.0,762.5 L367.0,762.5 L365.0,762.5 L363.0,762.6 L361.0,762.6 L359.0,762.6 L357.0,762.6 L355.0,762.6 L353.0,762.6 L351.0,762.6 L349.0,762.6 L347.0,762.7 L345.0,762.7 L343.0,762.7 L341.0,762.7 L339.0,762.7 L337.0,762.7 L335.0,762.7 L333.0,762.7 L330.9,762.7 L328.8,762.8 L326.7,762.9 L324.7,763.0 L322.7,763.2 L320.7,763.3 L318.7,763.4 L316.7,763.5 L314.7,763.6 L312.7,763.7 L310.7,763.9 L308.7,764.0 L306.7,764.1 L304.7,764.2 L302.7,764.3 L300.7,764.4 L298.7,764.5 L296.7,764.7 L294.7,764.8 L292.7,764.9 L290.8,765.0 L288.9,765.1 L287.0,765.1 L285.0,765.1 L283.0,765.1 L281.0,765.1 L279.0,765.1 L277.0,765.1 L275.0,765.1 L273.0,765.1 L271.0,765.1 L269.0,765.1 L267.0,765.2 L265.0,765.2 L263.0,765.2 L261.0,765.2 L259.0,765.2 L257.0,765.2 L255.0,765.2 L253.0,765.2 L251.0,765.2 L249.0,765.2 L247.0,765.2 L245.0,765.3 Z" fill="#8c0205"/>
<path d="M1166.5,560 L1166.5,718.6 M1166.5,797.4 L1166.5,955" stroke="#2b1c1c" stroke-width="8" fill="none"/>
<path d="M1166.4,536.4 L1181.3,573.8 L1166.4,567.5 L1151.4,573.8 Z" fill="#2b1c1c"/>
<path d="M1166.6,979.6 L1181.4,943.6 L1166.6,950 L1151.4,943.6 Z" fill="#2b1c1c"/>
<text x="182" y="217.0" text-anchor="end" class="t62">80</text>
<text x="182" y="355.4" text-anchor="end" class="t62">60</text>
<text x="182" y="501.0" text-anchor="end" class="t62">40</text>
<text x="182" y="644.4" text-anchor="end" class="t62">20</text>
<text x="182" y="788.5" text-anchor="end" class="t62">0</text>
<text x="182" y="930.9" text-anchor="end" class="t62">-20</text>
<text x="182" y="1075.7" text-anchor="end" class="t62">-40</text>
<text x="244.4" y="1172.5" text-anchor="middle" class="t62">-0.2</text>
<text x="466.9" y="1172.5" text-anchor="middle" class="t62">0.0</text>
<text x="688.3" y="1172.5" text-anchor="middle" class="t62">0.2</text>
<text x="910.5" y="1172.5" text-anchor="middle" class="t62">0.4</text>
<text x="1132.0" y="1172.5" text-anchor="middle" class="t62">0.6</text>
<text transform="translate(742.4,1274) scale(0.9836,1)" text-anchor="middle" class="t68">Potential / V</text>
<text transform="translate(54.8,694.5) rotate(-90) scale(0.966,1)" text-anchor="middle" class="t68">Current / μA</text>
<text x="1166" y="520" text-anchor="middle" class="th">h</text>
<text x="1169.5" y="1036.8" text-anchor="middle" class="th">h</text>
<text x="1166.5" y="772.5" text-anchor="middle" class="ta">a</text>
</g>
<use href="#content" filter="url(#bl)" opacity="0.5"/>
</svg>
</body></html>
